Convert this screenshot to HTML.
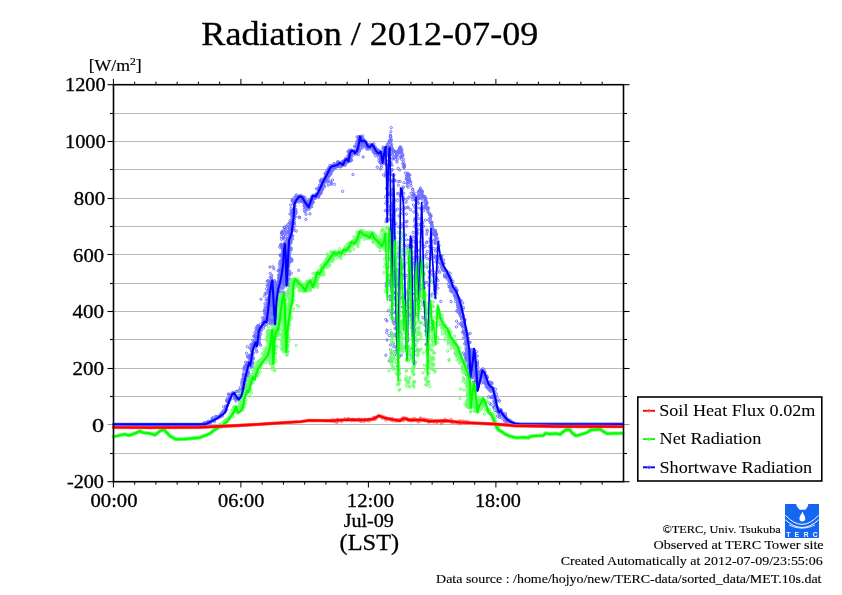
<!DOCTYPE html>
<html><head><meta charset="utf-8"><style>
html,body{margin:0;padding:0;background:#fff;}
svg{display:block;}
text{font-family:"Liberation Serif","Times New Roman",serif;fill:#000;}
.yl{font-size:18.5px;letter-spacing:0.6px;}
.tt{font-size:34.5px;}
.lg{font-size:16px;}
.ft{font-size:12.6px;}
</style></head><body>
<svg width="842" height="595" viewBox="0 0 842 595">
<rect width="842" height="595" fill="#fff"/>
<text x="88.7" y="70.5" font-size="16px" textLength="53" lengthAdjust="spacingAndGlyphs" style="stroke:#000;stroke-width:0.2px">[W/m<tspan font-size="10.5px" dy="-6">2</tspan><tspan dy="6">]</tspan></text>
<line x1="113.5" x2="623.5" y1="453.50" y2="453.50" stroke="#b9b9b9" stroke-width="1"/>
<line x1="113.5" x2="623.5" y1="424.50" y2="424.50" stroke="#b9b9b9" stroke-width="1"/>
<line x1="113.5" x2="623.5" y1="396.50" y2="396.50" stroke="#b9b9b9" stroke-width="1"/>
<line x1="113.5" x2="623.5" y1="368.50" y2="368.50" stroke="#b9b9b9" stroke-width="1"/>
<line x1="113.5" x2="623.5" y1="339.50" y2="339.50" stroke="#b9b9b9" stroke-width="1"/>
<line x1="113.5" x2="623.5" y1="311.50" y2="311.50" stroke="#b9b9b9" stroke-width="1"/>
<line x1="113.5" x2="623.5" y1="283.50" y2="283.50" stroke="#b9b9b9" stroke-width="1"/>
<line x1="113.5" x2="623.5" y1="254.50" y2="254.50" stroke="#b9b9b9" stroke-width="1"/>
<line x1="113.5" x2="623.5" y1="226.50" y2="226.50" stroke="#b9b9b9" stroke-width="1"/>
<line x1="113.5" x2="623.5" y1="198.50" y2="198.50" stroke="#b9b9b9" stroke-width="1"/>
<line x1="113.5" x2="623.5" y1="169.50" y2="169.50" stroke="#b9b9b9" stroke-width="1"/>
<line x1="113.5" x2="623.5" y1="141.50" y2="141.50" stroke="#b9b9b9" stroke-width="1"/>
<line x1="113.5" x2="623.5" y1="113.50" y2="113.50" stroke="#b9b9b9" stroke-width="1"/>
<line x1="107.5" x2="113.5" y1="481.70" y2="481.70" stroke="#000" stroke-width="1.1"/>
<line x1="623.5" x2="629.5" y1="481.70" y2="481.70" stroke="#000" stroke-width="1.1"/>
<line x1="110.0" x2="113.5" y1="453.50" y2="453.50" stroke="#000" stroke-width="1.1"/>
<line x1="623.5" x2="627.0" y1="453.50" y2="453.50" stroke="#000" stroke-width="1.1"/>
<line x1="107.5" x2="113.5" y1="424.50" y2="424.50" stroke="#9a9a9a" stroke-width="1.1"/>
<line x1="623.5" x2="629.5" y1="424.50" y2="424.50" stroke="#9a9a9a" stroke-width="1.1"/>
<line x1="110.0" x2="113.5" y1="396.50" y2="396.50" stroke="#000" stroke-width="1.1"/>
<line x1="623.5" x2="627.0" y1="396.50" y2="396.50" stroke="#000" stroke-width="1.1"/>
<line x1="107.5" x2="113.5" y1="368.50" y2="368.50" stroke="#000" stroke-width="1.1"/>
<line x1="623.5" x2="629.5" y1="368.50" y2="368.50" stroke="#000" stroke-width="1.1"/>
<line x1="110.0" x2="113.5" y1="339.50" y2="339.50" stroke="#000" stroke-width="1.1"/>
<line x1="623.5" x2="627.0" y1="339.50" y2="339.50" stroke="#000" stroke-width="1.1"/>
<line x1="107.5" x2="113.5" y1="311.50" y2="311.50" stroke="#000" stroke-width="1.1"/>
<line x1="623.5" x2="629.5" y1="311.50" y2="311.50" stroke="#000" stroke-width="1.1"/>
<line x1="110.0" x2="113.5" y1="283.50" y2="283.50" stroke="#000" stroke-width="1.1"/>
<line x1="623.5" x2="627.0" y1="283.50" y2="283.50" stroke="#000" stroke-width="1.1"/>
<line x1="107.5" x2="113.5" y1="254.50" y2="254.50" stroke="#000" stroke-width="1.1"/>
<line x1="623.5" x2="629.5" y1="254.50" y2="254.50" stroke="#000" stroke-width="1.1"/>
<line x1="110.0" x2="113.5" y1="226.50" y2="226.50" stroke="#000" stroke-width="1.1"/>
<line x1="623.5" x2="627.0" y1="226.50" y2="226.50" stroke="#000" stroke-width="1.1"/>
<line x1="107.5" x2="113.5" y1="198.50" y2="198.50" stroke="#000" stroke-width="1.1"/>
<line x1="623.5" x2="629.5" y1="198.50" y2="198.50" stroke="#000" stroke-width="1.1"/>
<line x1="110.0" x2="113.5" y1="169.50" y2="169.50" stroke="#000" stroke-width="1.1"/>
<line x1="623.5" x2="627.0" y1="169.50" y2="169.50" stroke="#000" stroke-width="1.1"/>
<line x1="107.5" x2="113.5" y1="141.50" y2="141.50" stroke="#000" stroke-width="1.1"/>
<line x1="623.5" x2="629.5" y1="141.50" y2="141.50" stroke="#000" stroke-width="1.1"/>
<line x1="110.0" x2="113.5" y1="113.50" y2="113.50" stroke="#000" stroke-width="1.1"/>
<line x1="623.5" x2="627.0" y1="113.50" y2="113.50" stroke="#000" stroke-width="1.1"/>
<line x1="107.5" x2="113.5" y1="84.70" y2="84.70" stroke="#000" stroke-width="1.1"/>
<line x1="623.5" x2="629.5" y1="84.70" y2="84.70" stroke="#000" stroke-width="1.1"/>
<line x1="113.40" x2="113.40" y1="78.9" y2="84.7" stroke="#000" stroke-width="1.0"/>
<line x1="113.40" x2="113.40" y1="481.7" y2="487.5" stroke="#000" stroke-width="1.0"/>
<line x1="134.65" x2="134.65" y1="81.7" y2="84.7" stroke="#000" stroke-width="1.0"/>
<line x1="134.65" x2="134.65" y1="481.7" y2="484.7" stroke="#000" stroke-width="1.0"/>
<line x1="155.90" x2="155.90" y1="81.7" y2="84.7" stroke="#000" stroke-width="1.0"/>
<line x1="155.90" x2="155.90" y1="481.7" y2="484.7" stroke="#000" stroke-width="1.0"/>
<line x1="177.15" x2="177.15" y1="81.7" y2="84.7" stroke="#000" stroke-width="1.0"/>
<line x1="177.15" x2="177.15" y1="481.7" y2="484.7" stroke="#000" stroke-width="1.0"/>
<line x1="198.40" x2="198.40" y1="81.7" y2="84.7" stroke="#000" stroke-width="1.0"/>
<line x1="198.40" x2="198.40" y1="481.7" y2="484.7" stroke="#000" stroke-width="1.0"/>
<line x1="219.65" x2="219.65" y1="81.7" y2="84.7" stroke="#000" stroke-width="1.0"/>
<line x1="219.65" x2="219.65" y1="481.7" y2="484.7" stroke="#000" stroke-width="1.0"/>
<line x1="240.90" x2="240.90" y1="78.9" y2="84.7" stroke="#000" stroke-width="1.0"/>
<line x1="240.90" x2="240.90" y1="481.7" y2="487.5" stroke="#000" stroke-width="1.0"/>
<line x1="262.15" x2="262.15" y1="81.7" y2="84.7" stroke="#000" stroke-width="1.0"/>
<line x1="262.15" x2="262.15" y1="481.7" y2="484.7" stroke="#000" stroke-width="1.0"/>
<line x1="283.40" x2="283.40" y1="81.7" y2="84.7" stroke="#000" stroke-width="1.0"/>
<line x1="283.40" x2="283.40" y1="481.7" y2="484.7" stroke="#000" stroke-width="1.0"/>
<line x1="304.65" x2="304.65" y1="81.7" y2="84.7" stroke="#000" stroke-width="1.0"/>
<line x1="304.65" x2="304.65" y1="481.7" y2="484.7" stroke="#000" stroke-width="1.0"/>
<line x1="325.90" x2="325.90" y1="81.7" y2="84.7" stroke="#000" stroke-width="1.0"/>
<line x1="325.90" x2="325.90" y1="481.7" y2="484.7" stroke="#000" stroke-width="1.0"/>
<line x1="347.15" x2="347.15" y1="81.7" y2="84.7" stroke="#000" stroke-width="1.0"/>
<line x1="347.15" x2="347.15" y1="481.7" y2="484.7" stroke="#000" stroke-width="1.0"/>
<line x1="368.40" x2="368.40" y1="78.9" y2="84.7" stroke="#000" stroke-width="1.0"/>
<line x1="368.40" x2="368.40" y1="481.7" y2="487.5" stroke="#000" stroke-width="1.0"/>
<line x1="389.65" x2="389.65" y1="81.7" y2="84.7" stroke="#000" stroke-width="1.0"/>
<line x1="389.65" x2="389.65" y1="481.7" y2="484.7" stroke="#000" stroke-width="1.0"/>
<line x1="410.90" x2="410.90" y1="81.7" y2="84.7" stroke="#000" stroke-width="1.0"/>
<line x1="410.90" x2="410.90" y1="481.7" y2="484.7" stroke="#000" stroke-width="1.0"/>
<line x1="432.15" x2="432.15" y1="81.7" y2="84.7" stroke="#000" stroke-width="1.0"/>
<line x1="432.15" x2="432.15" y1="481.7" y2="484.7" stroke="#000" stroke-width="1.0"/>
<line x1="453.40" x2="453.40" y1="81.7" y2="84.7" stroke="#000" stroke-width="1.0"/>
<line x1="453.40" x2="453.40" y1="481.7" y2="484.7" stroke="#000" stroke-width="1.0"/>
<line x1="474.65" x2="474.65" y1="81.7" y2="84.7" stroke="#000" stroke-width="1.0"/>
<line x1="474.65" x2="474.65" y1="481.7" y2="484.7" stroke="#000" stroke-width="1.0"/>
<line x1="495.90" x2="495.90" y1="78.9" y2="84.7" stroke="#000" stroke-width="1.0"/>
<line x1="495.90" x2="495.90" y1="481.7" y2="487.5" stroke="#000" stroke-width="1.0"/>
<line x1="517.15" x2="517.15" y1="81.7" y2="84.7" stroke="#000" stroke-width="1.0"/>
<line x1="517.15" x2="517.15" y1="481.7" y2="484.7" stroke="#000" stroke-width="1.0"/>
<line x1="538.40" x2="538.40" y1="81.7" y2="84.7" stroke="#000" stroke-width="1.0"/>
<line x1="538.40" x2="538.40" y1="481.7" y2="484.7" stroke="#000" stroke-width="1.0"/>
<line x1="559.65" x2="559.65" y1="81.7" y2="84.7" stroke="#000" stroke-width="1.0"/>
<line x1="559.65" x2="559.65" y1="481.7" y2="484.7" stroke="#000" stroke-width="1.0"/>
<line x1="580.90" x2="580.90" y1="81.7" y2="84.7" stroke="#000" stroke-width="1.0"/>
<line x1="580.90" x2="580.90" y1="481.7" y2="484.7" stroke="#000" stroke-width="1.0"/>
<line x1="602.15" x2="602.15" y1="81.7" y2="84.7" stroke="#000" stroke-width="1.0"/>
<line x1="602.15" x2="602.15" y1="481.7" y2="484.7" stroke="#000" stroke-width="1.0"/>
<defs><marker id="mb" markerUnits="userSpaceOnUse" markerWidth="4" markerHeight="4" refX="2" refY="2" overflow="visible"><circle cx="2" cy="2" r="1.15" fill="none" stroke="#6e6eff" stroke-width="0.95"/></marker><marker id="mg" markerUnits="userSpaceOnUse" markerWidth="4" markerHeight="4" refX="2" refY="2" overflow="visible"><circle cx="2" cy="2" r="1.15" fill="none" stroke="#66ff66" stroke-width="0.95"/></marker><marker id="mr" markerUnits="userSpaceOnUse" markerWidth="4" markerHeight="4" refX="2" refY="2" overflow="visible"><circle cx="2" cy="2" r="1.15" fill="none" stroke="#ff6e6e" stroke-width="0.95"/></marker></defs>
<polyline points="113.5,424.3 205.0,424.4 210.0,422.0" fill="none" stroke="#6e6eff" stroke-width="3.2" stroke-linejoin="round" stroke-linecap="round"/><polyline points="505.0,417.1 506.6,419.1 509.9,421.5 514.9,423.5 519.9,424.2 622.8,424.2" fill="none" stroke="#6e6eff" stroke-width="3.2" stroke-linejoin="round" stroke-linecap="round"/>
<path d="M208.6,421.2M204.1,422.8M204.7,425.7M203.7,423.5M206.4,423.1M204.0,423.4M208.4,423.9M207.6,421.5M205.4,422.7M213.4,417.4M212.6,419.4M212.8,419.2M214.4,421.8M211.7,420.6M212.1,418.3M214.5,420.1M212.8,419.3M212.5,420.4M215.3,418.9M213.7,419.8M210.8,422.6M216.9,416.7M215.8,416.4M220.7,416.3M218.6,416.4M220.3,416.2M219.8,416.9M217.9,416.8M216.1,416.8M217.8,418.2M220.5,414.9M221.0,415.2M222.3,413.1M222.4,416.2M221.1,415.4M220.5,414.5M221.6,413.1M223.3,411.6M225.1,410.0M225.6,408.8M223.7,410.7M226.6,409.7M225.5,410.6M223.6,406.9M223.0,411.3M225.3,410.6M229.0,402.4M226.0,405.8M226.9,401.4M226.9,400.8M226.6,400.1M227.8,401.0M227.7,405.3M228.4,402.4M226.1,407.2M226.0,406.0M228.2,402.2M228.2,402.6M228.3,394.0M229.1,399.3M228.9,398.8M229.1,395.0M227.7,398.2M230.2,399.9M229.5,394.3M229.5,397.4M232.5,398.1M229.9,398.4M232.1,393.7M231.8,393.7M233.2,393.0M232.7,395.0M232.7,392.4M234.9,396.2M234.1,396.0M234.5,395.4M234.4,394.0M234.0,393.3M233.5,394.0M235.2,398.6M235.2,397.2M235.3,399.1M236.3,398.7M237.7,398.7M236.7,396.8M235.9,401.1M238.2,398.8M238.1,397.8M236.9,398.5M239.0,399.6M237.9,395.7M239.5,398.0M240.1,398.4M241.0,397.7M240.9,397.1M240.3,397.6M244.4,393.7M241.2,395.5M241.0,391.8M242.2,393.6M243.1,391.5M239.2,392.0M236.8,391.5M241.0,394.9M242.5,392.3M239.1,390.3M242.2,392.5M239.0,391.4M241.0,394.4M241.8,392.7M243.5,395.8M240.9,392.3M235.9,391.7M246.6,393.7M244.7,391.4M241.5,395.1M242.0,389.1M244.0,384.6M245.2,387.5M242.6,386.2M240.0,389.6M241.7,384.0M243.9,387.6M244.3,390.5M240.5,387.3M242.3,388.6M242.4,386.7M245.2,390.9M244.1,390.5M245.9,384.9M246.7,390.9M243.1,384.4M244.2,387.6M243.2,384.2M246.2,387.9M242.1,389.7M243.1,387.5M244.7,381.0M244.0,380.7M246.9,379.0M247.6,377.6M242.8,382.9M243.4,378.3M243.3,379.0M242.3,379.4M241.7,381.7M245.1,377.7M243.5,381.9M246.1,380.0M244.9,383.5M243.1,379.9M242.5,382.2M244.9,378.9M244.0,378.2M245.0,378.7M246.4,378.7M246.0,379.7M244.4,378.8M243.6,380.8M245.6,376.8M244.9,374.5M243.6,376.3M247.0,374.1M246.5,373.8M243.3,375.9M247.2,377.1M249.2,375.2M243.4,374.4M244.6,375.4M247.7,373.0M244.3,375.0M246.6,375.5M246.3,374.4M243.5,373.7M246.9,373.6M245.9,369.1M245.5,366.8M244.3,368.7M248.8,372.2M247.7,372.0M246.3,371.3M243.9,370.4M247.0,369.5M245.6,366.8M244.1,368.9M246.6,367.3M245.5,367.5M244.2,367.2M246.0,367.0M245.5,367.7M248.4,370.4M249.9,367.0M246.7,365.0M252.2,367.0M248.3,364.4M246.9,364.8M249.3,363.5M247.8,366.2M247.2,363.8M247.0,365.7M247.5,363.7M250.0,365.6M249.8,363.7M247.7,362.8M251.7,367.3M247.3,364.7M245.9,364.6M248.2,362.9M247.6,364.1M250.7,362.3M248.5,363.6M245.3,365.8M249.2,363.2M248.2,362.8M251.8,360.8M250.4,364.9M252.4,363.1M249.3,363.4M250.8,363.0M249.5,364.1M252.1,362.6M252.8,364.1M247.2,363.0M251.0,361.4M245.6,362.1M251.5,361.7M249.7,363.1M248.9,362.4M251.2,359.6M248.8,363.4M249.8,362.1M251.9,361.7M249.7,364.1M248.7,361.7M252.5,353.3M252.1,354.4M248.2,357.7M252.9,359.0M252.3,358.4M253.1,352.6M249.5,355.3M248.8,356.2M253.0,356.6M252.1,352.0M251.3,354.4M251.0,356.8M249.4,358.4M253.2,353.4M251.4,358.3M247.4,356.2M249.8,358.2M246.5,353.3M253.4,358.3M250.0,358.7M250.9,355.0M249.7,356.5M251.9,358.6M251.2,355.3M256.8,351.8M249.8,348.1M252.2,347.5M256.3,350.0M251.5,350.8M251.9,350.9M252.4,347.0M251.7,347.8M252.8,349.0M252.2,349.5M251.5,349.7M251.8,350.4M252.1,350.1M251.7,351.1M251.0,348.4M253.2,348.5M247.4,346.6M254.5,345.4M255.9,345.2M252.9,344.6M256.3,346.6M255.4,344.2M253.8,343.4M255.6,347.2M253.7,344.6M254.5,344.8M252.8,345.2M255.6,343.4M255.6,344.6M252.4,345.5M254.9,344.8M253.1,346.2M254.4,342.7M253.1,343.5M256.7,345.0M253.5,343.2M256.3,345.5M253.8,346.7M255.8,343.0M251.0,344.8M255.9,343.5M255.5,346.2M254.0,345.3M251.3,344.3M259.3,339.5M255.1,340.4M257.9,342.8M257.8,340.7M256.8,344.7M259.4,343.6M256.3,339.2M256.7,338.9M256.1,343.9M256.2,342.6M259.2,342.4M257.3,344.2M255.7,345.3M259.5,344.4M260.7,345.3M253.7,342.0M258.6,343.4M256.1,341.7M255.0,343.0M254.3,341.8M252.8,340.2M256.7,340.0M257.2,341.5M259.1,340.4M258.3,334.9M259.8,338.4M254.8,332.8M256.0,337.1M256.1,334.6M258.9,332.6M256.2,331.5M256.7,336.6M259.2,336.3M258.3,334.6M260.8,334.4M259.5,336.7M259.6,333.5M255.1,335.1M258.2,336.9M258.0,332.8M254.8,337.1M258.5,336.7M256.4,337.3M258.5,338.0M258.5,331.1M254.8,336.2M253.7,336.2M258.8,336.0M256.4,330.1M260.2,330.6M256.9,326.7M257.1,328.9M259.1,329.9M257.5,330.0M258.9,330.7M259.9,330.6M258.6,327.0M256.0,328.4M258.6,328.3M259.6,331.0M261.2,330.9M259.3,326.4M261.1,326.6M257.7,325.9M263.5,328.3M263.4,326.2M259.2,326.9M261.0,327.7M259.4,327.1M261.7,328.3M260.3,326.6M258.3,325.4M260.5,324.4M261.3,327.5M263.1,323.9M263.5,322.9M263.4,321.4M264.9,325.2M266.5,324.6M262.7,322.1M262.8,322.9M263.3,323.7M263.7,324.1M264.0,324.7M264.4,321.0M264.1,323.8M264.8,322.2M264.5,321.8M263.6,324.0M264.3,322.9M263.8,321.9M269.4,319.8M263.8,319.9M267.0,318.3M267.8,311.5M264.1,317.3M268.1,319.5M264.2,311.3M264.6,320.6M267.5,311.0M266.6,320.2M268.6,322.8M266.7,317.9M268.9,316.3M269.1,316.2M262.4,317.8M265.8,318.7M264.9,310.8M264.7,320.4M265.1,317.9M265.9,313.5M266.2,318.6M267.2,316.5M266.5,321.3M263.2,320.7M267.1,320.7M268.7,312.5M267.7,313.2M267.1,314.1M269.3,318.9M268.4,312.7M265.1,313.9M267.6,312.8M266.2,314.5M268.6,320.6M267.8,311.1M264.9,314.1M268.7,311.7M269.1,298.8M269.1,298.5M267.6,308.7M268.7,302.6M269.2,305.6M265.0,303.8M270.6,298.0M268.3,301.5M268.2,308.3M268.8,306.6M267.6,308.7M268.1,308.3M268.3,306.2M270.0,306.6M268.9,309.8M266.9,307.6M270.3,294.1M271.7,304.1M270.4,304.3M269.4,300.3M272.9,295.3M264.6,296.3M269.0,307.9M267.9,309.5M268.0,298.0M269.9,307.4M264.4,310.2M268.2,298.3M270.3,297.4M265.1,308.8M267.9,303.9M266.3,310.2M266.6,306.8M270.0,297.2M267.7,299.9M269.3,305.4M268.1,305.1M267.2,301.4M268.7,307.8M278.1,304.4M268.1,305.3M270.2,294.8M272.4,298.4M265.0,293.7M270.2,304.1M267.5,307.7M270.8,305.6M269.2,304.8M268.1,304.4M265.1,306.9M266.1,299.9M271.1,301.4M270.6,303.3M267.3,303.6M270.9,288.9M268.0,287.2M271.6,284.7M272.9,289.7M270.3,286.5M270.5,290.0M269.3,288.9M268.1,285.0M267.2,285.3M274.2,284.5M271.0,291.7M266.5,288.8M268.9,291.0M266.4,292.7M268.5,291.3M270.9,285.4M268.3,285.5M270.2,290.3M271.0,285.3M270.1,292.9M271.8,288.0M270.5,293.4M270.6,285.1M268.6,291.8M268.1,290.2M269.8,287.5M271.9,292.5M269.5,286.8M271.0,284.5M271.7,290.7M275.9,287.4M268.9,290.7M270.5,289.8M267.2,281.2M271.4,281.4M270.6,281.7M275.1,281.9M272.9,282.7M270.7,281.6M269.7,283.3M272.4,280.8M270.9,281.4M269.9,283.1M269.7,282.7M270.9,288.4M270.7,281.8M272.0,285.4M273.9,289.3M268.0,280.9M272.9,286.7M270.2,289.6M266.4,293.8M272.7,291.6M271.1,289.9M271.5,285.8M270.1,283.4M271.4,282.3M270.9,290.5M271.2,288.9M270.3,283.9M274.0,281.9M268.5,280.8M274.6,280.5M272.5,287.6M271.6,284.5M272.2,282.0M272.0,287.3M271.8,290.9M269.5,283.5M275.0,287.8M271.0,291.9M273.8,293.4M272.2,292.1M270.5,286.1M271.7,290.3M271.7,282.5M271.5,284.5M271.4,289.1M271.7,281.4M269.9,282.0M272.5,289.2M273.9,293.1M272.4,285.7M271.9,290.4M269.9,287.0M272.1,286.2M271.1,281.3M272.7,287.7M271.6,300.3M261.0,299.2M272.3,302.1M273.2,313.2M273.8,305.9M271.6,305.8M275.6,303.7M272.4,295.8M271.8,299.4M274.3,301.9M268.4,307.8M269.7,300.7M272.4,310.4M275.4,309.1M276.6,306.2M273.4,294.3M273.1,309.0M272.6,302.3M272.6,313.7M272.9,302.8M274.3,301.4M271.8,300.4M269.5,295.5M270.4,305.1M273.8,296.2M269.0,312.7M275.8,302.1M273.8,311.4M273.6,294.5M272.4,312.6M275.2,307.6M270.9,309.0M272.2,305.7M270.8,301.0M274.4,304.3M270.9,301.2M271.0,303.7M272.5,298.6M274.1,308.5M273.6,310.5M275.1,308.2M272.1,313.6M273.8,303.0M272.0,296.0M270.3,311.1M272.1,305.0M269.3,297.1M273.0,295.8M271.6,298.4M270.0,296.5M269.4,305.8M274.8,301.1M273.8,308.3M268.9,299.4M273.4,294.2M272.6,299.0M272.8,303.7M271.2,304.2M269.9,297.3M275.4,304.7M274.8,304.5M275.7,298.9M275.2,312.6M270.1,303.2M276.3,323.4M273.5,316.4M270.8,315.3M274.9,323.1M269.7,320.0M270.2,323.1M273.3,320.8M273.8,324.0M273.4,322.7M275.7,319.2M274.9,319.2M272.1,321.3M271.8,319.1M273.0,323.9M273.8,315.3M272.4,323.6M270.8,323.9M274.8,314.1M274.6,319.9M276.2,323.3M273.2,319.3M274.0,322.8M269.9,314.5M272.9,319.3M273.8,321.7M273.9,322.0M275.2,322.3M272.3,314.2M275.3,316.5M274.9,320.8M272.6,316.5M274.2,316.5M274.5,321.9M276.5,311.9M276.3,303.5M276.3,316.4M276.1,308.3M273.5,306.0M270.2,318.7M277.9,315.9M275.2,300.8M276.3,305.8M274.6,305.5M276.7,306.8M277.8,305.0M274.9,322.6M275.8,320.8M279.4,302.4M277.7,302.4M277.1,319.7M277.7,308.3M273.3,313.3M274.2,321.3M279.1,320.0M274.3,322.9M276.4,311.8M275.6,310.8M272.5,322.1M273.6,322.2M278.1,312.4M273.7,316.3M275.3,301.2M276.6,310.0M274.3,301.8M274.8,323.6M273.0,320.2M275.7,306.8M276.1,305.4M274.4,308.7M275.3,317.0M273.7,317.9M274.3,309.4M276.9,315.8M273.8,311.3M276.2,316.4M275.1,304.0M269.6,320.0M274.6,320.1M274.0,318.5M274.5,317.4M274.2,307.9M277.8,302.5M277.2,315.3M275.4,310.6M277.0,313.4M276.6,309.1M274.3,317.5M275.2,318.6M275.6,305.4M279.1,314.3M273.9,301.8M275.9,304.4M275.5,316.1M276.9,305.3M274.6,302.5M272.8,304.9M275.5,320.0M274.5,302.4M273.6,312.0M278.5,302.9M278.0,309.1M277.0,301.1M276.1,316.9M278.5,301.1M274.7,321.2M275.1,306.0M271.9,303.4M273.5,312.4M277.7,300.6M279.8,293.3M275.6,292.2M276.2,298.4M278.7,292.8M277.0,289.8M274.3,288.9M273.5,296.3M276.4,294.4M276.9,294.3M277.3,291.9M277.6,298.0M277.7,300.0M278.1,289.5M275.6,295.6M278.3,289.4M275.5,295.4M274.3,292.7M277.5,290.0M279.1,294.7M278.3,291.7M276.8,297.5M276.0,291.9M280.0,292.7M278.3,295.8M278.8,290.3M275.8,299.8M278.9,299.5M276.9,293.9M275.3,292.3M275.8,300.1M275.9,294.9M274.6,299.6M278.9,289.6M275.5,294.7M275.4,299.1M277.8,298.2M275.1,295.7M278.5,284.8M276.6,286.1M276.9,286.9M277.7,284.6M279.8,287.0M277.8,284.0M276.9,284.3M279.6,287.9M277.8,283.7M276.6,284.9M274.3,283.6M277.7,285.0M278.5,286.9M276.7,287.4M280.5,284.3M282.2,287.1M277.2,284.1M282.1,277.9M279.1,281.6M278.8,275.1M279.3,277.0M282.3,282.1M279.1,279.2M280.8,276.4M280.4,281.6M278.6,278.4M282.5,279.9M279.8,280.9M278.6,283.1M283.3,277.4M278.4,281.3M281.6,281.1M278.2,282.3M283.0,282.4M282.2,283.4M281.4,282.0M283.7,278.7M280.2,282.2M278.6,277.6M283.2,280.5M280.9,280.3M278.9,275.1M278.9,281.8M279.2,280.9M281.9,280.6M278.1,270.7M284.0,273.3M279.2,270.8M284.8,267.3M283.2,265.6M282.4,268.6M283.0,263.9M283.2,265.4M282.5,267.3M280.1,272.0M279.4,269.6M280.9,268.7M282.8,272.2M280.1,275.1M283.4,274.4M280.3,269.7M282.2,266.5M281.4,267.6M279.7,270.6M279.6,269.6M282.1,264.9M280.9,275.2M282.5,268.2M283.6,273.5M279.7,266.9M280.0,269.8M284.0,263.9M283.6,265.8M282.5,269.1M282.9,272.0M279.5,274.3M282.1,275.4M282.6,274.3M279.8,264.0M283.2,268.7M283.9,270.3M280.2,269.9M279.3,271.1M282.0,254.6M282.9,262.6M281.5,255.9M283.0,254.9M286.6,253.5M283.0,263.2M281.8,263.2M284.6,257.3M282.9,252.3M280.1,254.8M280.4,255.8M283.3,252.4M285.9,257.1M282.2,260.3M286.7,263.0M282.0,260.3M286.8,250.5M281.1,255.0M284.7,262.9M282.4,258.4M283.4,250.2M284.4,259.2M284.8,261.3M283.3,256.8M280.5,260.9M283.1,262.6M282.7,257.2M283.1,255.2M279.7,262.7M283.1,261.6M283.8,251.7M286.1,262.6M284.4,251.2M282.5,262.1M284.0,261.0M283.9,261.4M284.8,261.7M281.6,256.6M284.5,255.3M286.7,259.3M283.2,258.3M284.6,250.9M284.3,258.6M283.2,249.8M285.6,245.6M285.0,244.6M285.8,245.7M284.2,244.1M280.5,245.9M281.0,244.2M282.5,244.7M285.5,244.5M285.0,249.5M282.6,249.5M283.0,246.2M287.2,247.8M279.7,247.2M284.4,249.0M284.1,248.1M283.8,248.1M284.0,244.0M283.2,248.6M286.7,246.1M287.4,248.2M287.1,252.0M283.8,252.7M284.8,246.2M284.8,248.5M286.8,251.9M285.0,244.6M287.1,244.2M283.4,250.1M282.1,248.3M282.3,246.7M281.9,245.9M283.4,250.7M282.1,248.0M282.7,253.9M282.5,250.6M286.1,247.0M284.6,251.0M284.0,246.9M284.8,249.6M284.3,250.7M284.2,254.9M285.6,249.5M282.3,248.5M285.2,249.2M282.9,255.1M283.8,251.5M286.1,245.5M283.0,249.0M283.1,248.1M285.3,253.7M281.4,245.7M281.0,244.9M286.3,246.2M283.7,254.4M284.9,278.8M284.7,269.4M285.2,279.1M284.5,269.4M284.8,283.0M282.9,283.3M286.4,273.8M282.7,279.3M283.6,270.4M283.6,281.4M285.5,271.8M284.3,278.2M285.9,267.8M287.4,258.5M283.8,260.2M286.8,266.1M282.3,260.4M285.6,276.4M284.8,273.7M287.9,284.5M286.5,274.7M283.9,274.8M283.1,265.8M288.0,280.7M285.2,274.6M283.8,279.4M285.5,264.2M284.6,274.5M284.8,257.6M282.4,281.9M284.6,269.5M283.4,263.5M286.7,255.9M287.3,260.8M284.0,257.4M287.4,268.8M283.1,264.8M285.1,284.7M283.8,283.2M287.1,279.6M284.5,272.0M284.3,259.8M281.5,272.7M287.9,274.6M285.8,278.7M285.9,267.6M286.1,276.7M287.5,280.1M283.7,259.5M284.6,264.5M286.4,269.2M285.5,265.1M283.1,279.6M285.4,282.0M284.6,263.2M287.4,267.5M286.1,261.2M284.4,258.3M282.4,261.1M284.6,285.1M286.9,280.2M284.6,260.4M288.1,261.3M284.3,260.0M281.2,269.6M284.8,265.8M282.7,278.8M286.7,268.9M284.9,275.9M285.8,264.9M285.4,266.8M283.0,256.0M284.4,280.6M285.9,264.6M284.0,273.0M284.6,266.7M284.5,278.4M285.1,277.1M285.6,264.6M285.9,277.5M283.2,269.5M283.3,263.0M289.2,284.2M283.6,260.3M284.8,258.7M283.6,268.5M287.7,282.3M283.7,270.6M284.5,267.8M284.8,273.2M285.9,277.3M284.3,262.0M284.9,271.7M285.2,272.2M284.6,265.3M285.0,266.5M284.3,264.1M290.1,279.2M286.9,279.6M288.7,285.3M288.4,279.0M283.5,275.2M286.8,273.4M284.5,276.3M287.1,278.5M289.6,274.1M287.5,277.5M284.4,284.7M286.5,283.3M286.3,283.6M284.3,281.2M286.6,285.5M289.6,275.2M285.4,284.4M284.0,272.7M284.5,285.0M287.0,273.6M284.8,283.8M286.7,284.1M284.5,279.9M287.2,272.8M287.4,273.3M285.3,279.2M283.3,277.1M290.6,285.5M285.9,282.7M282.9,282.1M287.9,275.0M286.0,272.4M283.7,275.7M287.0,278.7M285.7,278.4M284.9,283.5M286.9,282.7M291.4,273.3M287.8,274.1M284.6,275.5M287.4,274.2M286.7,278.9M284.3,272.0M288.1,265.9M289.3,271.0M285.6,264.2M286.3,264.4M284.8,271.9M287.3,267.9M288.7,260.4M291.0,260.8M288.0,259.7M286.8,266.0M287.5,271.1M286.4,256.7M285.5,255.8M287.4,255.4M287.5,261.3M287.3,261.7M287.5,261.5M289.2,262.1M284.8,264.1M288.8,265.4M287.8,255.3M286.8,267.4M286.5,265.3M284.5,261.8M289.2,255.7M287.4,263.1M287.9,257.0M285.9,263.7M286.7,270.9M288.4,267.3M284.5,261.9M288.4,259.6M287.9,257.9M288.8,259.1M289.3,261.9M286.3,255.7M287.1,265.5M287.4,260.8M288.6,261.9M292.0,261.1M284.5,256.4M289.6,258.3M288.2,270.4M298.7,270.4M291.0,258.9M288.7,263.7M286.8,271.5M287.2,256.4M286.5,270.0M284.8,258.9M285.8,265.0M287.4,257.1M292.0,259.3M287.7,255.8M282.8,252.4M285.0,245.8M284.8,251.5M289.9,253.1M288.4,249.7M289.0,250.5M285.8,254.7M291.1,242.2M289.2,244.9M288.4,244.2M289.6,241.5M289.8,247.1M288.3,254.2M289.0,254.7M286.9,249.8M286.1,248.6M286.4,247.0M288.6,248.6M286.6,251.5M290.7,243.4M288.4,244.4M288.5,244.7M289.1,251.0M287.1,253.8M286.1,253.3M289.8,242.5M286.6,252.6M288.6,241.0M287.9,254.0M287.4,246.0M288.0,253.2M286.2,246.1M285.3,253.0M287.4,253.0M288.3,244.9M291.0,248.0M286.6,242.9M290.9,250.2M289.6,240.4M291.2,248.9M285.0,241.7M287.5,251.1M288.1,240.8M287.2,253.0M287.5,254.0M288.2,242.9M284.6,248.3M286.7,243.2M288.0,239.5M288.0,239.4M290.5,236.3M290.7,236.8M291.2,236.7M291.2,236.4M291.0,234.7M290.0,236.2M290.1,237.7M289.2,238.9M290.9,234.9M291.2,240.0M290.3,236.2M290.0,235.0M292.7,236.0M289.2,233.8M287.8,232.6M288.3,238.2M287.5,239.5M291.5,239.5M292.2,235.8M292.4,238.8M289.7,233.2M291.0,223.3M291.5,224.2M294.3,223.4M289.0,232.7M293.2,226.7M290.5,223.5M290.3,222.3M290.5,231.4M294.3,219.4M291.6,225.1M291.6,230.6M290.9,228.9M293.4,230.6M293.4,223.3M289.9,223.1M292.3,226.1M291.3,230.0M290.0,223.3M292.2,221.1M294.2,221.9M296.3,231.1M291.6,217.3M292.2,227.3M292.7,222.0M290.0,220.6M293.5,223.4M291.7,222.7M292.2,222.1M292.0,217.8M291.9,227.7M294.1,219.4M294.7,225.5M291.4,232.0M292.8,218.9M291.3,223.1M292.2,226.4M289.4,231.4M292.2,220.7M294.1,228.6M291.5,224.6M290.0,232.5M289.8,230.7M289.8,226.2M293.5,223.7M293.1,220.8M291.0,224.5M291.2,229.3M289.7,229.1M292.9,229.4M290.9,224.0M288.1,224.2M289.7,231.8M293.7,216.8M291.9,215.0M294.8,206.4M293.3,216.7M296.0,211.1M293.0,209.6M293.7,208.6M294.9,216.1M294.1,211.1M295.3,213.9M293.2,216.2M294.7,208.5M291.0,208.3M291.8,213.0M292.3,211.4M293.5,209.0M295.1,217.1M294.4,214.0M295.0,211.7M295.7,209.4M292.5,210.3M290.0,214.0M294.7,216.1M295.0,210.1M290.7,204.9M294.8,211.6M292.7,210.9M294.3,205.4M291.7,213.2M305.2,207.9M293.5,215.5M292.2,214.0M294.2,211.8M293.9,211.9M291.2,210.9M295.3,213.6M292.5,215.3M293.3,215.9M294.7,205.6M296.3,212.8M293.4,216.8M294.8,203.7M292.1,200.9M294.0,201.3M294.0,203.5M292.8,200.8M295.7,201.9M292.3,199.2M294.9,200.6M294.1,200.9M294.8,201.4M292.9,200.8M293.6,203.1M296.3,202.0M293.8,202.1M295.2,201.8M296.3,194.8M296.4,198.0M296.1,197.9M297.2,198.2M297.4,198.6M299.3,202.2M294.5,197.4M299.5,197.9M298.3,198.2M299.0,197.8M298.4,200.0M297.7,196.8M298.6,200.9M295.6,196.6M297.4,195.9M299.1,196.2M298.0,198.9M299.0,197.0M300.9,195.4M300.6,198.0M300.4,198.2M299.9,198.8M300.2,196.1M300.0,197.8M301.3,196.6M301.0,198.2M299.8,198.3M299.8,199.3M300.8,198.8M304.8,201.4M306.5,200.8M302.3,201.0M302.9,200.8M302.6,201.8M303.5,201.9M302.5,197.9M303.5,199.0M303.0,199.6M301.6,199.7M304.5,199.3M305.1,197.6M303.7,199.5M303.4,196.7M302.1,199.2M300.7,198.1M303.5,201.4M301.4,198.1M303.6,199.5M301.1,201.2M301.1,197.8M303.0,197.3M302.9,200.3M303.9,202.3M303.3,200.0M303.7,197.3M306.0,206.5M307.0,206.4M305.3,204.1M303.9,205.8M307.9,207.3M305.2,206.1M305.4,202.6M308.1,204.5M306.0,206.4M307.5,204.0M304.8,204.1M308.7,200.7M306.6,206.5M308.9,206.7M303.9,203.1M307.2,202.6M307.0,204.5M306.2,201.8M308.5,203.3M305.7,204.7M305.7,205.5M305.9,206.1M309.4,206.2M307.0,204.5M305.0,203.5M305.7,201.9M309.3,206.2M304.7,205.8M309.9,202.8M309.1,206.8M307.2,205.8M310.1,206.5M307.6,206.2M311.0,203.2M311.2,202.5M311.8,206.8M311.9,203.8M311.5,203.3M311.2,201.9M309.3,206.3M307.1,206.1M312.6,202.3M309.8,202.7M311.0,202.6M308.6,204.1M310.9,203.8M308.0,205.1M310.8,202.2M310.7,203.9M310.0,204.0M308.4,202.7M309.4,206.0M311.6,204.6M309.8,207.2M308.7,202.0M308.7,205.3M311.5,201.6M313.1,202.0M312.8,198.6M311.4,198.0M311.4,200.7M310.4,198.9M311.6,197.8M313.4,197.6M314.7,197.7M315.6,197.3M311.6,200.0M311.8,201.0M312.6,199.6M311.9,196.6M311.1,201.2M313.1,196.6M312.3,199.5M312.8,199.2M312.6,197.9M312.2,196.0M313.1,201.8M315.7,198.2M310.4,200.7M312.8,198.9M309.8,199.9M310.5,200.8M311.8,201.5M312.8,197.2M314.5,196.2M313.4,197.9M314.0,198.3M313.2,195.2M314.3,197.3M313.6,198.2M313.1,196.5M314.2,197.1M314.3,198.5M315.3,196.1M314.4,197.0M315.2,197.2M319.5,194.1M315.0,195.1M316.2,195.6M318.5,197.0M318.3,194.1M316.1,195.6M319.1,195.5M316.8,195.9M318.0,195.0M318.8,194.1M317.4,194.4M316.4,195.0M317.5,196.4M316.3,194.6M318.3,193.7M316.8,193.2M318.6,196.5M317.6,195.9M318.9,194.9M317.9,188.6M318.3,189.4M321.4,190.9M318.8,190.4M320.2,189.0M319.9,192.2M320.6,190.8M319.3,191.5M320.9,191.9M319.9,193.4M318.6,190.0M319.5,188.4M320.1,191.6M318.8,188.0M319.1,192.4M321.2,193.3M320.0,189.2M318.7,188.4M320.0,188.8M320.7,192.7M321.2,189.7M316.4,188.8M322.0,185.2M321.7,187.8M321.6,187.4M322.7,184.9M322.8,186.8M322.1,184.7M322.7,184.6M319.5,185.5M322.3,189.2M321.8,188.5M321.9,186.7M319.0,187.9M321.7,185.9M320.7,187.0M321.5,187.3M323.0,184.3M323.7,184.8M323.6,185.1M324.6,186.9M319.8,186.0M322.1,186.2M322.5,189.6M320.6,188.1M323.7,185.6M320.3,188.0M323.2,181.8M323.0,179.4M321.6,180.3M324.7,178.7M324.8,181.5M324.7,181.3M322.3,181.5M326.4,179.7M324.4,182.3M323.0,182.4M323.4,182.1M324.6,177.8M320.9,181.4M325.6,181.2M320.7,182.7M323.7,181.6M323.1,183.1M323.1,182.3M323.7,183.5M323.5,182.5M329.2,181.2M327.9,178.4M322.4,183.4M327.2,182.2M320.2,180.5M325.6,180.3M325.7,178.7M327.9,181.1M325.8,179.0M321.7,179.2M323.6,181.0M322.6,182.4M342.6,191.4M326.0,176.7M328.2,172.9M328.4,174.3M325.4,174.2M328.3,171.4M330.8,174.3M328.1,177.0M330.5,173.2M329.1,176.2M327.1,172.7M328.0,172.4M330.4,172.7M327.5,176.4M329.1,172.5M325.5,173.8M326.2,176.6M327.0,171.0M329.2,172.5M328.8,175.1M331.1,172.8M327.0,172.5M325.3,176.2M329.6,172.6M328.3,176.6M329.7,172.3M327.7,175.0M328.3,174.0M325.3,173.3M331.6,170.1M328.5,170.2M329.6,171.6M328.9,169.0M331.6,170.7M327.9,170.0M328.4,171.2M330.1,169.1M330.2,171.4M327.3,170.6M328.0,169.1M330.1,169.1M331.6,169.5M329.6,169.7M331.8,167.8M331.4,167.6M330.5,168.6M329.8,165.5M331.3,168.4M330.6,168.1M328.9,167.7M331.2,166.3M331.9,168.1M330.3,167.3M330.0,167.7M332.1,168.1M334.0,167.5M333.7,166.9M333.4,168.2M332.1,167.8M332.4,167.7M332.8,170.6M331.6,165.7M334.2,167.1M334.3,166.4M333.7,165.5M334.6,168.4M333.8,166.9M336.7,163.8M334.0,163.6M335.8,167.0M336.5,166.3M334.6,168.4M335.6,166.2M335.1,166.0M336.3,166.6M334.3,164.3M335.5,166.7M336.5,163.8M336.5,166.7M336.5,164.4M337.1,165.2M338.2,161.8M338.7,166.2M339.1,166.6M339.2,166.5M337.5,161.8M339.2,162.4M340.2,164.0M342.0,165.6M339.9,164.4M337.6,164.0M339.3,163.1M340.3,164.4M339.9,163.8M336.9,164.9M340.5,164.3M338.6,162.8M339.8,165.8M342.1,162.7M341.5,163.8M341.4,165.0M341.9,165.9M340.8,166.9M342.0,164.5M343.5,163.8M341.4,164.6M342.3,163.0M339.6,164.5M339.3,165.1M342.6,165.1M342.5,164.6M339.8,163.5M343.2,161.2M344.2,164.7M343.2,162.4M345.6,162.7M342.5,164.6M344.3,163.3M345.3,161.1M341.8,163.9M342.5,163.8M346.3,162.1M346.8,161.8M344.7,162.9M345.8,163.3M344.4,161.8M344.7,164.5M344.0,162.7M345.8,161.9M342.4,163.2M345.1,163.7M343.6,161.1M342.2,161.6M345.1,165.2M346.0,160.6M345.5,159.2M347.9,160.8M346.2,159.3M344.8,160.1M345.6,160.9M345.6,160.5M347.6,161.7M346.2,159.1M346.2,161.6M347.4,160.1M345.5,160.6M346.3,160.8M345.9,161.7M347.1,161.1M349.6,160.1M347.1,161.2M347.2,161.2M348.3,161.4M346.7,162.6M347.6,159.6M347.5,159.3M347.9,160.0M347.1,159.5M348.3,157.0M353.3,155.4M350.7,159.9M349.3,159.4M349.0,157.2M350.5,157.9M348.2,157.1M348.9,157.8M351.3,154.2M350.5,158.4M349.7,154.6M350.9,160.8M347.1,160.1M349.8,154.0M349.1,157.8M348.6,157.4M347.6,160.7M351.2,157.8M348.3,155.2M350.4,160.8M351.1,155.0M348.5,161.1M348.2,158.9M349.7,158.1M349.9,156.3M350.5,159.1M350.2,157.6M345.6,158.5M348.8,161.4M349.6,156.8M350.4,153.7M349.7,159.6M348.4,155.4M351.7,160.1M350.1,157.3M348.8,156.3M348.0,151.8M349.7,152.3M351.0,153.2M349.6,150.9M352.2,154.4M351.4,152.3M348.5,151.4M350.4,151.1M351.9,151.4M349.4,152.2M352.7,152.7M351.9,152.4M349.4,150.1M351.9,151.4M351.9,153.1M352.1,150.8M352.0,150.4M352.0,151.8M352.3,154.0M351.6,153.1M351.9,151.2M351.5,150.1M353.2,151.1M352.1,150.4M355.1,151.6M355.6,151.4M356.6,151.8M353.3,152.4M355.6,152.6M354.5,152.2M354.0,152.7M352.9,153.6M352.1,154.2M353.8,151.8M351.6,152.5M354.8,150.9M354.7,152.9M356.4,152.1M358.5,154.6M363.1,157.0M356.4,151.7M357.1,152.7M356.2,153.7M356.8,150.8M356.4,153.0M357.1,153.5M354.7,150.7M356.5,154.0M355.0,153.0M357.2,150.9M355.8,152.0M358.8,150.6M357.1,147.2M357.7,148.3M360.5,148.1M358.4,149.4M357.8,150.9M358.4,149.3M357.4,150.4M358.1,149.4M359.4,151.4M357.7,147.7M354.5,146.2M358.0,148.6M359.3,150.2M356.5,146.2M358.8,149.6M355.1,147.0M362.0,148.3M356.4,147.1M358.9,148.1M359.6,139.0M358.2,141.4M359.8,141.3M359.5,138.0M359.6,137.7M361.0,140.9M356.7,144.5M361.5,139.5M360.8,139.7M359.9,138.0M357.3,140.9M361.1,144.5M358.3,141.5M358.6,145.8M360.1,138.2M361.4,137.2M359.0,142.3M361.6,137.6M360.1,137.9M358.6,144.7M361.5,143.2M360.9,137.7M359.7,139.8M359.7,143.4M361.0,138.9M359.3,142.7M359.3,144.4M359.1,145.1M356.3,143.1M360.4,142.3M360.1,144.1M362.0,139.5M358.5,139.0M363.2,139.0M357.1,136.8M361.2,137.1M358.2,141.1M359.7,137.9M358.7,139.2M360.2,137.4M359.6,139.2M359.3,143.2M358.6,142.6M360.3,145.3M360.0,141.0M358.2,137.9M363.1,140.6M362.6,138.6M360.8,139.9M360.2,140.8M359.3,136.8M360.0,137.3M361.3,137.3M361.5,138.7M358.9,136.9M359.5,138.1M361.6,140.5M358.5,137.8M362.6,135.9M359.6,138.2M362.0,138.5M360.6,141.0M360.0,141.6M361.6,137.0M360.9,140.7M359.5,137.3M359.8,141.4M358.2,141.2M363.0,141.3M361.7,141.0M363.5,142.2M363.2,142.7M362.8,143.2M361.6,141.8M361.6,141.3M361.7,141.3M362.9,141.2M363.1,142.7M364.0,140.8M364.1,140.8M362.8,142.2M364.8,140.6M363.7,141.6M364.5,141.9M365.7,142.0M363.4,141.1M365.1,142.2M365.1,142.2M362.6,143.5M366.2,141.9M365.3,143.5M365.9,147.3M368.3,144.5M364.0,145.6M367.1,144.4M366.3,145.2M369.3,145.6M365.5,144.2M361.9,145.4M366.8,145.4M366.0,146.1M367.7,144.6M364.6,142.9M365.7,146.8M366.2,142.8M365.9,144.7M364.7,143.2M364.3,143.8M363.4,146.3M366.1,142.4M365.9,143.5M368.1,147.7M370.4,145.7M369.9,147.0M368.4,148.4M367.8,148.0M367.8,147.4M367.7,148.3M368.3,149.0M368.2,147.7M370.1,146.6M371.2,147.3M371.4,145.2M372.8,145.7M372.8,148.0M368.2,145.5M373.0,146.0M371.6,146.2M372.7,144.8M373.2,145.2M371.3,148.0M372.6,144.8M371.8,145.5M370.9,146.4M370.6,144.1M371.4,145.4M372.5,145.3M375.1,146.6M367.0,149.2M371.3,145.0M374.5,147.7M371.7,145.4M372.6,145.7M371.3,149.6M372.4,147.5M371.1,146.4M371.4,145.8M373.7,143.7M372.5,148.0M373.5,147.2M371.8,145.2M372.0,146.2M372.6,144.8M373.6,146.3M371.9,145.4M373.5,146.9M375.3,151.5M374.0,152.7M373.9,149.9M375.2,149.1M375.5,151.2M376.6,151.2M376.0,149.5M376.2,148.6M376.1,149.8M373.5,152.0M375.1,151.5M375.2,148.3M375.7,151.7M375.2,150.0M373.7,150.9M377.7,150.4M374.3,150.2M373.7,149.6M374.4,149.1M376.5,153.3M376.1,152.3M376.1,151.9M378.5,151.4M377.1,153.8M376.8,152.3M375.1,153.2M374.8,153.3M376.8,153.6M378.1,152.4M376.5,152.4M376.0,152.0M375.3,155.7M377.3,151.7M380.0,154.9M378.0,152.6M381.0,152.3M379.4,152.5M381.7,155.0M380.7,152.2M378.5,150.0M378.5,151.2M381.7,152.5M378.8,152.2M380.6,151.9M379.2,152.6M381.7,154.0M381.6,153.6M381.6,160.9M380.0,162.5M380.9,153.7M383.4,153.5M382.5,162.1M375.4,152.8M380.7,160.6M377.9,155.4M380.6,156.1M378.4,151.9M382.1,159.3M383.2,153.1M381.4,157.7M380.3,153.2M380.7,162.5M380.7,154.1M383.9,154.4M378.8,152.4M379.6,154.3M382.9,156.7M382.6,162.0M380.3,152.8M380.9,154.4M380.1,153.3M378.5,157.7M382.0,160.0M380.8,153.8M381.6,162.8M380.2,159.3M384.0,155.5M381.8,161.7M383.4,161.8M379.3,154.3M384.7,154.6M381.8,159.1M379.2,154.6M381.0,156.4M381.0,153.8M380.9,157.5M382.3,157.6M381.7,156.6M381.9,160.3M382.7,162.6M380.2,152.0M381.7,161.7M383.5,158.8M382.2,160.6M381.4,156.9M382.2,162.0M382.1,159.8M384.2,158.4M382.8,156.7M380.9,160.8M383.4,157.7M381.9,155.5M383.6,163.1M383.7,162.3M381.9,155.0M385.0,158.3M382.8,161.6M383.4,160.0M385.1,153.2M385.2,157.4M384.3,152.9M400.9,156.8M383.2,160.6M383.9,160.0M383.3,153.9M383.3,161.2M383.3,158.4M384.7,153.4M383.8,156.5M385.1,155.4M385.6,155.1M382.3,156.9M380.7,158.0M385.5,153.3M383.9,162.8M384.2,157.7M385.7,156.5M385.4,160.4M385.4,157.7M382.5,157.1M386.2,160.5M381.7,162.1M383.6,161.3M384.4,162.9M383.7,160.4M382.5,158.6M383.6,153.5M383.9,156.0M383.9,157.7M381.1,155.0M384.0,158.3M385.0,153.8M383.0,155.4M383.4,158.3M381.9,160.6M383.9,160.5M386.0,148.1M386.9,151.5M387.1,149.4M388.1,149.9M385.6,152.1M388.7,147.6M384.7,152.0M387.0,148.2M389.0,148.1M386.2,152.7M387.5,151.4M384.9,147.7M387.1,147.2M385.4,150.9M386.8,148.8M384.5,148.2M384.4,150.3M384.1,149.4M383.4,148.5M383.1,147.1M386.8,152.9M384.2,152.6M383.9,150.7M385.6,152.6M387.2,152.8M388.9,147.6M383.8,152.7M383.2,148.9M439.5,256.4M441.9,255.9M440.4,262.8M440.8,258.1M441.8,260.5M439.4,259.2M443.5,263.0M441.0,256.3M441.0,263.6M435.5,257.0M443.6,260.0M441.4,258.7M441.6,258.5M437.8,260.4M440.6,264.3M440.8,259.9M441.2,256.0M441.3,260.2M439.2,257.2M435.9,261.8M440.7,263.0M443.0,263.9M443.6,263.7M439.9,272.3M442.0,268.9M443.8,269.9M442.3,264.2M441.3,267.1M444.3,270.2M444.6,270.3M442.3,265.4M437.4,272.2M442.5,266.1M441.9,267.2M444.5,269.9M442.5,270.1M443.8,263.5M444.5,276.5M448.4,277.9M446.5,271.0M446.9,272.1M436.1,277.2M444.6,275.0M447.4,275.8M446.7,277.1M447.5,273.7M448.1,275.3M448.4,272.3M449.0,276.1M448.7,276.5M444.5,274.6M444.0,270.9M445.6,277.0M448.4,276.0M426.4,282.4M446.8,274.1M445.2,276.5M446.9,276.0M450.2,277.0M450.3,273.6M449.2,281.6M450.5,281.3M451.4,283.6M449.1,286.8M449.4,286.7M451.7,279.5M449.1,279.2M453.0,281.5M450.9,284.3M451.8,286.0M451.4,286.4M450.6,285.2M451.9,285.8M449.4,281.6M449.4,278.5M448.6,284.2M447.4,279.2M452.5,285.9M450.7,285.1M450.4,287.5M450.4,280.4M450.6,280.7M450.3,290.6M452.2,291.1M450.9,289.0M452.2,288.7M453.2,290.0M451.5,291.7M456.1,288.1M452.7,286.9M455.2,288.5M454.6,286.9M457.1,290.2M455.6,292.1M455.5,293.8M454.1,294.3M440.8,301.4M456.8,290.6M452.8,291.9M456.5,291.9M456.6,291.5M456.3,293.6M456.3,294.3M456.6,294.9M455.9,295.2M454.4,295.9M455.0,294.8M458.6,297.4M455.4,296.2M456.6,296.5M456.0,297.2M456.4,297.3M457.7,298.2M455.5,298.9M457.1,299.0M457.5,304.2M459.5,306.0M457.9,307.5M459.7,301.8M459.6,307.5M458.0,306.9M459.1,299.7M460.6,306.3M457.0,300.7M460.9,305.5M458.4,302.0M458.5,306.4M461.0,300.6M457.6,305.1M451.1,301.5M458.0,299.2M459.4,299.1M455.6,301.6M457.8,303.2M461.5,307.2M462.7,303.0M460.6,300.7M463.0,309.2M456.9,311.1M459.9,313.8M461.9,312.4M461.7,318.2M459.6,313.5M460.2,315.9M459.0,313.0M461.3,310.6M461.3,311.2M462.8,315.9M460.4,308.6M460.5,313.2M461.5,309.3M463.2,315.2M461.2,310.9M457.1,310.7M460.2,308.0M461.1,308.2M461.4,314.4M463.5,307.6M461.8,317.3M461.5,319.1M460.3,310.2M460.6,311.7M461.1,316.5M458.8,310.1M458.6,323.7M462.6,325.3M463.0,326.3M466.5,330.9M462.5,326.7M464.2,325.3M464.8,319.8M463.3,331.7M463.6,326.3M465.8,328.1M464.5,322.8M461.7,325.4M463.6,328.9M462.8,325.8M464.3,331.0M461.4,323.0M463.5,321.9M464.5,320.7M464.5,325.2M462.5,325.7M461.0,324.2M463.7,323.6M464.9,319.8M456.5,321.2M465.2,328.1M461.9,322.9M456.4,326.9M464.0,321.5M463.6,331.1M464.3,323.2M463.1,324.0M466.7,342.1M467.8,343.8M465.1,335.4M466.0,347.7M463.3,338.1M470.3,333.4M467.9,346.5M469.5,342.3M466.6,344.0M467.4,335.1M468.1,334.4M462.5,332.4M467.0,341.9M465.6,341.3M470.1,342.4M466.1,340.6M467.2,348.3M466.3,334.9M467.9,345.0M464.5,332.1M468.1,333.9M466.6,344.4M464.4,334.8M465.2,334.5M465.1,337.6M466.0,334.7M464.7,332.6M466.3,333.7M467.3,348.3M464.9,333.3M464.2,333.4M466.1,345.0M467.5,337.5M466.8,339.9M468.4,341.6M448.6,341.6M468.2,338.2M465.7,343.3M466.0,336.4M464.5,332.9M464.6,343.7M469.3,364.3M470.6,353.6M470.0,365.9M466.5,364.7M465.1,359.6M465.8,361.2M466.5,352.1M467.1,354.7M466.0,358.3M471.5,365.4M466.2,349.5M465.0,354.7M469.6,363.8M464.8,355.5M468.0,349.5M467.0,353.1M469.4,362.4M468.1,353.2M463.4,353.0M465.9,361.5M469.3,356.4M469.1,354.5M469.4,359.1M468.6,365.5M470.0,366.1M466.3,364.4M472.1,365.6M469.5,364.7M468.2,359.1M467.6,356.5M467.4,361.2M470.0,351.7M459.4,353.0M455.3,353.3M465.8,358.0M470.3,358.8M466.5,350.6M466.7,356.8M468.1,365.5M468.1,359.6M473.1,363.6M470.6,375.0M469.6,370.0M467.0,366.5M469.1,366.4M466.6,368.9M471.3,366.8M467.9,368.1M472.0,372.2M469.8,369.6M468.5,370.8M468.1,367.6M470.1,370.2M469.1,373.2M469.5,367.7M466.1,373.1M467.8,367.4M466.7,369.9M470.1,375.1M469.6,367.6M468.6,368.1M471.6,369.9M470.4,375.8M466.1,374.1M466.5,366.7M470.1,367.7M469.0,368.9M466.7,374.8M471.3,374.7M468.1,370.1M470.8,373.5M471.7,371.1M468.5,372.0M472.0,370.0M470.0,370.9M470.2,376.9M472.7,365.8M471.8,376.5M469.0,366.8M466.9,374.3M471.2,368.9M471.5,361.3M473.1,361.5M471.3,369.8M467.9,373.3M472.6,377.6M472.6,363.5M470.5,371.4M469.8,371.1M475.4,366.4M471.1,361.8M468.2,373.5M470.9,363.7M468.8,366.0M468.1,367.1M469.0,369.9M471.6,368.7M472.8,368.7M471.5,369.2M473.7,364.5M469.2,369.3M468.0,375.7M471.8,369.7M467.8,374.6M469.4,368.1M469.3,367.5M471.7,377.5M469.3,364.2M473.9,362.0M469.4,369.9M469.8,372.8M468.9,363.7M468.4,366.1M473.7,354.4M470.5,355.7M470.3,358.4M472.6,356.8M471.4,351.1M472.6,356.6M469.7,356.9M469.7,357.6M474.7,354.0M469.9,354.4M473.5,353.8M473.6,352.7M474.0,353.2M473.0,352.5M471.6,358.0M472.1,349.5M475.1,353.1M470.8,355.3M472.2,358.6M470.0,354.6M473.9,357.6M473.9,356.1M471.2,356.0M472.8,357.6M468.7,355.1M472.9,353.4M469.3,348.9M469.4,357.9M473.9,350.3M470.6,359.7M469.8,352.4M474.2,350.6M471.4,350.0M473.4,349.5M471.8,357.4M472.2,361.3M475.8,361.7M472.9,354.9M472.7,352.5M473.7,362.5M473.0,352.7M473.5,361.2M472.5,354.4M471.8,363.4M476.0,362.5M472.2,352.4M477.2,356.1M475.2,361.2M472.8,353.3M472.2,362.5M474.8,354.4M472.8,356.2M471.6,354.2M477.3,362.5M476.6,351.7M475.4,361.7M477.3,360.7M470.5,354.8M475.2,357.9M474.1,355.0M473.4,352.1M476.6,362.6M473.4,350.7M475.4,354.9M473.3,359.6M475.5,367.9M475.5,372.9M474.5,373.6M475.4,369.4M472.5,377.6M473.3,364.5M477.3,365.2M473.6,387.5M475.0,381.5M478.2,375.7M474.3,371.1M476.6,374.9M476.0,369.5M474.2,364.3M476.0,375.2M477.9,367.2M475.9,383.2M475.9,385.4M474.2,384.1M475.5,386.6M478.4,387.1M474.5,368.4M473.2,372.4M476.0,371.7M479.0,378.9M474.1,368.4M477.0,386.9M473.8,376.3M472.2,387.3M476.1,376.7M475.6,379.8M475.7,386.5M477.6,370.1M475.7,381.7M473.6,382.0M475.7,369.6M477.6,363.8M473.4,389.6M474.0,382.9M471.0,374.7M474.5,383.0M472.3,384.9M471.4,375.6M473.6,366.0M476.3,383.3M476.5,375.6M478.3,374.0M476.1,382.4M475.3,373.4M475.9,380.4M473.8,390.0M476.7,387.4M474.2,368.7M474.3,384.6M476.3,364.5M472.7,367.2M474.5,377.2M473.2,369.0M480.6,380.0M474.7,375.3M475.4,370.3M474.9,367.8M476.7,372.4M475.0,373.6M475.5,370.4M475.4,390.3M476.5,388.5M475.4,384.7M475.0,389.9M478.2,382.5M476.5,388.6M475.9,387.7M477.2,389.7M477.3,382.9M477.6,389.0M478.3,382.5M476.8,390.7M476.8,380.6M475.9,386.8M478.6,384.7M476.1,385.9M473.6,386.7M478.4,380.7M479.8,381.0M476.9,383.4M478.3,386.9M473.9,390.1M478.7,381.9M481.7,382.9M479.2,382.6M480.2,376.9M481.3,371.5M480.9,375.1M481.1,371.0M481.2,372.4M485.4,376.0M478.5,371.7M478.7,376.4M476.7,373.8M483.7,373.7M477.3,378.3M481.2,375.9M480.9,370.8M481.5,375.7M480.8,377.8M478.7,372.0M479.6,378.9M480.4,378.5M480.9,373.2M477.5,379.1M480.5,371.9M481.0,377.6M476.4,376.5M481.6,380.6M478.9,378.8M482.8,368.7M484.3,370.2M479.1,373.3M481.4,373.5M481.6,371.3M481.9,369.8M481.4,370.5M483.5,374.3M486.9,376.2M483.6,374.5M484.7,377.4M482.9,373.7M484.9,372.2M484.3,376.6M484.8,373.5M483.6,374.3M486.3,377.5M485.3,378.2M480.2,375.4M481.4,373.3M486.8,376.1M482.3,377.1M482.1,376.6M485.6,383.9M484.4,383.0M486.3,383.8M485.4,379.5M489.4,383.1M485.9,383.6M484.5,378.9M485.1,380.3M488.9,382.1M485.2,383.3M485.0,381.2M484.3,382.0M487.4,377.9M486.5,380.5M490.4,382.0M491.9,382.7M488.9,384.6M490.3,385.3M489.1,386.1M487.3,386.6M486.8,387.5M487.2,384.1M486.0,386.4M492.0,383.9M488.8,387.8M489.3,390.0M489.8,387.0M490.6,386.0M488.3,388.8M493.2,390.9M490.6,390.1M495.0,392.2M492.6,388.3M491.2,388.2M495.6,389.3M490.4,391.3M491.5,391.4M493.3,387.9M492.1,388.9M492.1,388.5M492.9,388.9M492.0,388.9M497.0,396.7M490.9,397.5M491.2,397.0M491.9,397.1M488.5,396.8M493.7,394.5M493.7,397.3M494.3,395.3M495.5,399.5M493.4,397.9M494.8,396.4M493.6,397.4M495.4,397.6M496.4,394.0M492.5,397.1M493.5,396.6M495.6,404.5M498.8,399.9M495.7,404.9M496.2,406.1M495.6,402.6M493.6,406.9M495.9,403.5M495.7,400.3M494.2,401.8M496.4,401.1M494.9,401.6M493.9,408.0M494.6,403.2M495.8,406.1M489.8,403.4M493.8,401.1M494.3,407.0M499.4,401.3M496.4,400.4M491.1,404.5M497.9,409.3M496.7,410.1M496.8,408.9M497.2,411.6M497.6,407.6M497.0,408.5M497.9,407.7M499.5,410.4M500.0,409.5M498.0,411.7M494.8,410.5M497.8,409.4M498.3,411.7M497.2,411.3M498.7,413.2M500.5,412.3M501.4,414.5M501.3,409.9M497.5,416.0M500.7,409.9M499.3,411.1M500.7,410.0M502.9,414.2M502.5,412.8M499.7,414.7M499.8,414.2M500.0,415.4M505.5,416.8M503.6,415.1M505.5,414.9M503.4,416.0M504.2,419.3M499.3,417.3M502.2,418.2M503.8,416.0M503.1,415.4M502.7,414.3M505.3,413.5M499.7,417.2M506.1,417.1M508.4,420.3M507.0,419.1M507.3,420.6M508.3,420.5M507.0,422.3M504.3,420.9M506.1,422.5M508.0,420.0M506.1,419.6M506.3,421.3M509.8,421.6M511.0,421.2M509.6,420.1M509.6,423.4M387.5,153.8M387.7,166.6M386.1,164.6M389.6,170.6M385.7,172.4M383.6,174.9M385.7,203.4M386.8,200.7M388.6,206.1M386.4,188.5M385.4,176.2M387.2,194.8M392.1,205.8M390.9,220.2M385.5,196.7M387.1,210.0M389.8,179.4M390.1,215.1M385.3,210.5M387.4,221.0M389.1,219.3M387.2,211.0M387.9,174.0M389.3,171.4M385.9,221.7M386.4,219.0M389.6,166.0M389.4,167.1M387.3,150.9M392.1,165.2M389.6,149.0M393.5,189.6M391.1,192.9M392.3,149.3M385.7,154.3M391.9,170.2M391.0,164.7M390.9,173.4M393.2,195.1M386.9,155.3M389.5,193.1M390.7,174.8M388.6,248.2M395.1,259.9M390.0,219.2M387.6,202.1M389.3,258.9M389.9,281.9M391.8,231.1M392.3,234.5M394.3,255.3M390.2,258.4M390.1,209.7M391.4,260.2M393.4,257.7M392.6,238.6M388.9,212.3M391.0,245.1M393.0,265.0M390.2,245.1M393.3,286.4M394.3,240.2M392.7,240.6M389.1,275.5M392.6,255.5M393.3,244.9M392.0,244.3M391.5,243.4M395.1,248.4M391.4,245.8M391.0,233.1M394.1,215.5M389.2,194.5M390.2,206.5M395.2,211.0M393.3,232.5M390.7,195.0M392.0,181.3M391.5,226.4M393.2,220.8M393.1,233.2M392.3,233.7M394.0,201.7M394.6,180.0M395.0,180.5M394.3,200.0M393.4,175.5M393.1,179.9M393.3,262.2M396.5,272.0M398.6,226.9M392.7,279.9M393.5,244.2M397.5,279.8M390.4,209.5M396.1,223.6M391.0,246.1M398.3,253.1M394.3,279.4M393.1,271.0M394.1,224.5M397.7,269.5M394.4,261.6M392.5,202.9M394.5,297.6M393.4,292.3M393.3,292.6M395.6,299.1M395.7,321.5M396.3,328.0M396.1,305.1M395.5,297.7M394.5,304.7M396.7,317.0M400.4,336.5M397.9,349.9M392.5,336.5M395.6,334.8M396.0,346.3M396.2,336.9M399.5,343.5M400.4,348.1M401.2,355.2M398.1,347.9M398.3,322.4M401.8,267.4M398.0,285.4M395.6,292.4M395.5,312.2M398.3,277.3M400.6,283.0M400.1,329.2M396.8,283.2M396.2,311.0M403.3,266.3M401.8,298.1M398.0,329.3M393.7,320.7M398.4,193.4M400.3,196.2M399.1,215.8M400.3,238.3M397.5,209.2M399.3,247.8M399.8,257.4M402.8,189.0M397.9,256.8M401.7,225.9M402.7,227.9M403.7,236.2M395.0,258.9M402.7,209.3M401.3,188.7M402.4,188.1M400.5,194.9M406.1,202.3M403.8,193.2M404.6,245.9M402.7,213.5M406.5,226.3M409.6,262.0M406.5,239.8M403.6,254.9M402.6,250.2M405.7,235.1M404.3,244.5M401.9,223.8M407.3,247.7M406.1,222.0M406.4,214.2M403.3,312.6M404.1,297.2M404.4,313.1M404.4,323.2M403.7,277.8M404.4,295.7M403.8,302.6M406.8,304.1M402.5,307.0M401.5,297.9M402.5,274.5M406.8,275.6M406.1,333.3M409.0,354.1M405.3,347.2M406.4,336.8M406.1,331.6M407.7,340.5M407.5,310.8M407.6,334.4M409.8,307.5M409.2,350.6M406.5,321.6M405.7,346.2M409.9,316.3M406.3,347.2M406.3,302.5M410.9,301.2M405.6,311.8M410.5,348.7M411.4,285.8M409.4,287.9M410.3,298.7M409.4,262.4M408.0,292.2M414.9,265.5M404.8,299.3M412.1,285.1M412.1,259.0M413.6,257.7M409.0,251.5M407.8,245.6M411.9,239.8M409.8,240.1M411.9,289.9M410.3,245.1M412.0,246.7M415.2,279.8M409.3,246.4M411.3,266.9M411.2,286.7M412.8,264.0M410.6,262.3M411.2,246.9M409.8,293.9M410.3,266.2M411.8,328.0M411.5,303.9M412.4,326.7M414.8,309.3M414.6,345.1M411.0,313.3M415.0,331.8M411.3,319.7M413.7,302.0M411.7,355.9M414.9,362.5M413.4,352.5M410.0,314.2M411.5,308.3M416.1,340.0M412.2,310.1M417.7,350.2M415.0,313.0M417.0,314.7M416.4,300.3M413.1,335.0M414.9,306.0M414.3,329.5M414.0,351.2M414.0,350.8M414.0,337.1M416.3,278.3M417.4,257.2M414.5,293.9M411.2,245.9M412.2,281.7M418.0,202.3M413.6,268.6M412.2,278.3M413.8,212.1M414.7,219.1M411.3,268.7M414.3,226.4M421.2,198.0M416.2,247.6M410.6,209.7M414.6,262.0M416.0,255.8M415.4,279.4M414.5,286.1M415.8,272.8M416.0,208.0M414.6,221.3M417.7,215.0M417.3,207.7M415.5,218.5M418.1,229.5M415.7,224.6M413.1,236.8M415.5,258.4M417.0,263.1M415.5,271.6M416.1,243.2M417.5,297.7M417.0,268.5M417.2,250.7M420.3,288.9M414.2,275.8M419.7,285.5M418.2,265.0M416.0,299.6M417.3,289.9M417.1,293.3M418.4,269.1M416.3,270.9M416.2,283.4M419.9,284.6M422.8,244.9M421.8,257.9M420.2,241.9M419.5,250.3M423.8,284.3M423.6,287.9M425.2,207.8M420.4,208.3M421.9,231.3M421.7,237.3M421.3,230.0M423.7,226.4M422.0,208.5M420.6,225.3M422.9,222.6M421.4,209.1M428.1,207.8M421.5,234.1M420.7,224.3M418.4,224.4M424.7,257.0M423.0,266.3M424.3,287.8M423.3,266.3M426.4,242.8M427.3,258.4M423.0,297.4M425.2,283.0M426.2,254.5M422.2,261.9M423.2,247.8M425.2,246.4M422.8,302.6M425.4,312.2M422.8,317.5M423.7,304.5M427.7,320.9M426.0,325.2M425.7,331.2M427.2,343.7M426.9,344.8M428.8,335.8M424.9,325.0M429.4,327.4M427.0,324.1M426.0,344.5M429.0,277.3M427.9,310.1M428.7,285.4M432.9,275.3M427.0,313.1M425.1,319.4M429.5,272.2M429.2,271.3M430.6,296.2M430.2,273.7M430.4,246.5M430.1,238.4M427.4,251.4M427.0,267.2M431.8,258.4M433.3,255.2M429.3,259.3M430.1,241.1M429.5,246.4M433.7,248.5M433.5,241.2M427.0,230.0M430.7,253.4M435.3,257.6M431.8,254.4M435.4,251.2M435.4,274.4M433.4,281.8M434.5,272.5M437.9,280.5M434.8,290.1M432.2,294.0M436.8,279.2M435.4,298.0M437.0,284.8M436.4,278.5M435.3,291.4M436.8,249.7M437.8,262.2M437.1,247.9M437.6,266.7M438.3,269.7M440.6,257.5M439.1,245.4M435.0,242.7M436.8,242.7M403.4,161.9M411.9,196.5M404.3,166.9M396.0,156.5M403.6,199.8M399.9,147.1M421.6,192.2M413.4,194.5M414.8,198.5M401.8,150.7M407.8,207.2M422.3,192.6M407.5,180.2M407.4,175.0M416.6,213.0M429.3,213.4M387.9,145.2M411.1,185.6M392.9,159.0M400.6,151.5M408.6,177.4M400.1,181.4M403.8,167.1M397.6,200.5M416.1,238.8M399.6,170.0M434.7,239.7M387.7,152.0M393.2,150.5M388.4,152.4M418.5,196.2M408.2,187.3M412.8,199.8M431.5,222.2M401.8,149.3M409.9,175.0M418.3,192.7M431.8,224.6M433.9,234.6M435.3,231.8M437.7,256.0M418.9,191.0M395.2,152.3M391.7,144.4M432.9,229.5M431.9,222.3M404.3,164.3M406.6,177.7M386.9,148.0M394.7,157.6M389.4,144.6M425.2,199.9M403.8,182.6M414.4,194.8M396.4,151.8M396.6,156.4M413.0,191.6M396.8,153.6M437.5,238.4M406.4,175.8M408.4,183.0M394.0,174.9M397.8,154.6M408.4,181.0M415.4,199.4M404.7,165.8M400.5,148.7M407.5,173.3M434.9,233.3M398.3,168.4M415.4,251.5M422.1,194.5M429.3,213.5M420.4,188.1M436.5,279.4M421.1,194.9M407.0,221.3M395.7,151.9M397.7,152.7M393.9,150.9M404.1,166.7M415.8,200.8M399.0,152.9M416.6,200.9M392.9,149.8M419.2,198.1M430.4,219.0M392.8,158.2M423.6,210.8M419.3,190.4M436.0,234.2M427.8,209.2M391.0,139.0M420.3,196.7M397.0,162.1M407.2,186.0M408.4,180.2M431.6,225.3M415.8,199.4M404.0,199.0M413.5,204.9M393.0,181.2M391.8,147.4M398.1,181.6M436.2,236.7M417.9,199.0M425.7,201.0M409.3,180.4M426.7,234.2M413.1,195.8M390.9,141.6M426.5,201.4M435.6,236.3M407.6,175.4M407.1,199.3M400.3,150.2M387.5,147.2M401.3,152.8M401.4,155.7M391.1,145.7M420.4,189.2M432.0,225.5M407.3,179.9M432.7,234.1M419.4,198.4M412.7,189.2M408.1,207.7M427.8,210.5M415.1,207.5M407.1,183.2M422.0,199.0M415.8,210.5M403.4,186.9M434.9,230.5M430.6,216.2M416.6,201.2M392.5,150.1M427.0,242.0M386.3,148.4M406.9,178.8M431.3,227.6M418.2,203.5M425.6,199.1M413.1,232.5M396.0,155.9M425.1,205.6M428.5,219.8M399.4,148.9M418.8,218.6M420.1,190.4M393.2,150.8M413.7,195.2M390.2,164.1M405.4,173.0M424.7,198.0M401.7,159.4M424.6,206.4M421.7,233.0M425.4,220.1M427.4,231.5M386.9,150.7M409.6,178.8M408.7,174.4M425.1,196.6M416.5,196.9M399.2,148.7M419.3,197.7M400.2,149.5M388.2,164.9M417.6,196.0M390.5,136.4M426.1,203.8M413.7,241.6M390.1,141.0M414.5,196.9M438.3,241.6M396.0,155.5M397.3,151.9M417.9,233.5M436.6,234.4M423.1,196.9M430.5,222.7M436.0,233.8M398.5,185.4M419.0,195.0M419.0,197.3M417.7,196.9M401.3,150.7M436.0,233.5M415.2,199.8M406.2,179.0M408.0,174.0M432.3,229.4M435.6,232.2M392.1,169.5M421.8,190.7M402.8,156.1M403.3,164.6M432.4,270.6M413.9,193.0M391.6,149.8M387.8,154.5M389.0,141.3M409.0,177.9M409.6,181.0M390.4,142.1M432.6,227.4M393.2,152.1M391.5,151.4M397.5,193.7M416.8,198.2M387.1,147.0M435.5,256.6M425.5,198.8M392.1,148.9M402.8,154.7M427.0,203.1M411.1,193.4M410.7,181.7M436.7,259.7M390.6,161.8M431.8,222.7M418.3,192.4M435.2,243.6M385.9,155.0M433.4,232.5M437.4,262.9M430.9,215.0M430.9,216.4M404.0,167.9M435.2,239.6M426.1,204.3M414.1,195.1M423.4,195.6M408.9,175.3M427.2,207.3M437.8,288.3M403.5,159.4M407.0,183.0M404.5,208.5M435.4,230.5M402.0,153.2M398.2,152.2M416.6,200.0M388.8,142.6M425.6,198.0M416.9,198.0M400.3,157.2M433.0,233.4M424.0,196.6M429.9,221.2M397.6,159.3M427.9,212.1M436.4,239.2M394.4,158.0M400.7,147.0M433.2,234.0M426.8,203.0M408.9,197.1M391.1,162.6M428.2,208.1M429.7,215.0M396.6,151.5M395.8,159.5M423.8,208.0M435.1,235.8M422.4,191.3M392.9,150.3M389.9,139.9M392.5,155.2M429.9,218.1M436.2,235.1M432.8,229.0M387.2,144.4M423.9,202.0M399.0,149.8M391.5,147.7M385.7,174.7M399.2,152.3M434.3,231.4M417.1,230.7M391.2,145.8M412.4,189.2M401.3,156.7M426.4,202.8M426.2,205.0M388.5,149.4M432.3,228.8M426.6,208.5M431.3,223.7M422.2,195.7M405.5,207.7M407.4,173.7M389.7,147.5M421.2,193.0M391.9,154.2M410.6,183.5M403.5,197.5M402.8,163.6M392.1,189.6M392.3,309.3M390.9,286.4M398.2,370.0M397.8,281.6M397.8,280.6M390.6,349.8M394.9,285.1M386.9,330.2M398.6,327.1M390.1,296.3M395.1,328.3M394.1,324.0M393.7,346.8M390.4,311.3M393.2,318.4M395.2,312.6M393.0,321.9M399.9,287.9M391.3,353.2M396.9,271.1M393.4,343.5M385.8,355.3M389.3,361.0M399.4,325.3M394.6,334.5M395.8,293.6M397.8,313.8M397.9,345.9M391.4,361.1M392.3,313.3M386.0,286.2M386.7,332.6M396.4,270.1M399.9,332.0M387.0,320.9M391.2,299.8M399.2,374.0M397.3,366.3M395.1,284.0M386.1,283.3M394.5,355.1M396.0,293.6M391.8,274.0M389.2,335.5M387.4,280.2M390.4,344.9M385.8,319.4M390.1,279.9M387.1,340.0M390.6,315.3M396.3,293.5M390.1,299.9M399.6,356.4M392.4,283.7M395.7,335.3M398.4,344.9M392.5,276.0M389.8,296.4M394.8,351.3M398.9,274.2M391.5,333.3M396.7,348.5M388.2,284.6M398.1,312.8M394.0,273.1M397.7,306.4M395.6,278.1M395.9,300.5M388.3,310.7M399.8,332.3M270.0,267.0M273.2,282.0M271.6,297.1M273.8,299.0M270.2,277.4M273.6,291.6M270.9,295.6M273.7,298.4M273.1,266.7M270.3,296.4M271.6,277.2M272.9,285.8M271.3,278.9M271.6,298.7M270.6,281.0M271.8,295.4M272.7,292.7M271.8,275.3M271.0,298.8M270.6,293.6M270.2,273.4M271.0,298.6M272.8,283.0M273.9,268.8M273.0,285.1M285.8,230.4M284.6,227.9M281.4,236.7M289.0,228.4M285.2,236.2M287.8,229.4M284.4,233.0M289.8,228.6M288.4,238.5M283.4,235.7M284.6,227.4M284.1,227.4M286.9,238.7M281.7,232.4M288.9,235.6M289.1,226.7M286.3,241.3M282.8,238.3M283.7,238.4M284.8,234.3M287.3,234.3M289.0,233.2M282.5,232.2M286.6,232.1M286.5,226.2M281.5,239.3M285.2,229.1M286.3,226.4M281.7,233.1M283.8,230.7M281.7,233.6M283.8,237.6M289.3,238.3M282.0,233.8M282.3,231.2M286.3,257.1M281.2,295.0M283.4,293.6M280.2,265.0M281.5,284.7M282.1,259.6M289.1,285.2M284.5,282.6M289.6,283.7M288.7,262.0M287.3,255.3M289.0,294.0M286.8,281.1M282.2,290.6M286.5,294.9M289.7,262.2M284.3,255.2M287.5,257.2M284.7,258.4M286.0,263.6M281.3,269.6M281.3,282.1M282.2,288.2M280.6,261.0M284.2,292.7M289.5,259.1M285.3,284.1M285.2,270.9M289.5,256.8M286.3,256.0M289.3,292.1M288.5,272.4M282.9,275.1M285.1,271.1M283.6,287.6M304.3,209.3M304.8,211.4M306.0,214.3M305.9,219.4M307.2,208.8M310.0,213.9M309.2,208.8M305.2,211.6M307.3,209.6M309.4,208.0M331.6,183.5M334.5,184.4M330.9,184.3M332.5,180.0M328.1,185.2M331.0,182.4M352.9,174.5M391.3,127.6M390.8,131.6M390.6,136.5M391.3,139.9M390.4,134.9M390.4,136.5M299.0,217.2M299.7,217.5M381.2,165.3M378.9,160.7M380.7,162.6M377.2,167.2M381.4,167.2M380.3,169.1" fill="none" stroke="none" marker-start="url(#mb)" marker-mid="url(#mb)" marker-end="url(#mb)"/>
<polyline points="113.5,436.7 117.0,436.0 121.0,435.0 125.0,434.3 129.1,435.5 133.2,433.9 136.4,432.7 139.6,431.1 143.2,432.7 150.0,433.4 155.0,435.0 160.0,431.0 164.0,429.6 170.0,436.0 176.0,439.3 185.0,439.0 200.0,437.6 210.0,433.4 215.1,429.5 218.0,427.9" fill="none" stroke="#66ff66" stroke-width="3.8" stroke-linejoin="round" stroke-linecap="round"/><polyline points="488.0,410.6 488.3,411.6 491.6,414.9 494.1,420.7 496.6,426.5 498.2,429.9 501.6,431.5 504.9,434.0 509.9,436.2 516.5,437.8 523.2,437.3 528.2,437.8 531.5,436.2 538.2,435.7 543.1,435.7 545.6,433.2 549.8,434.0 556.4,433.5 560.0,434.5 563.3,431.6 566.7,429.5 570.0,429.9 572.5,433.3 575.8,435.8 580.8,434.5 586.6,432.8 590.8,429.9 594.9,429.8 599.9,429.1 604.1,432.0 607.4,433.7 614.0,433.3 622.8,433.3" fill="none" stroke="#66ff66" stroke-width="3.8" stroke-linejoin="round" stroke-linecap="round"/>
<path d="M219.6,427.1M217.5,426.4M215.5,428.2M219.6,426.9M217.5,427.7M218.6,427.7M220.1,425.2M214.9,428.4M219.1,427.4M218.0,427.1M218.8,424.8M217.5,426.8M224.0,421.4M221.6,423.7M222.1,427.0M224.2,422.9M220.4,424.1M226.5,422.4M224.0,421.8M222.0,427.1M224.9,422.9M221.9,425.7M229.3,419.1M225.6,420.2M228.9,418.4M226.0,419.7M227.4,421.6M227.8,418.4M229.0,419.2M228.8,417.3M226.5,419.6M229.1,418.6M234.4,411.3M233.4,412.9M231.9,414.9M231.8,415.3M234.1,412.2M233.1,411.5M232.1,415.2M233.6,416.8M232.1,415.8M230.4,413.2M229.9,415.7M232.0,410.0M235.3,408.0M234.5,407.6M233.5,410.3M234.3,408.2M234.5,406.8M232.9,409.6M237.3,411.0M234.6,410.3M233.6,407.3M235.8,406.9M235.8,408.7M234.6,406.7M234.4,409.0M233.7,410.2M237.1,412.2M236.1,410.3M237.3,412.0M238.8,412.5M237.6,413.4M238.3,410.9M239.0,408.4M241.3,408.1M239.0,406.5M243.1,409.2M237.3,410.4M241.4,409.4M242.6,410.5M238.0,407.1M239.3,407.1M240.5,408.6M240.7,410.5M240.8,409.0M239.8,407.1M241.6,408.1M239.9,406.8M241.9,406.5M242.0,402.2M240.6,405.5M241.4,402.1M242.3,406.0M239.5,404.4M244.7,403.8M245.0,403.4M240.0,401.2M240.0,406.1M241.8,400.9M239.3,401.7M241.4,405.1M242.8,401.2M244.0,404.4M240.7,404.5M242.5,403.3M243.0,403.9M244.1,406.3M244.7,402.3M243.9,407.2M244.7,397.0M243.8,397.6M243.0,397.9M242.5,397.0M244.2,395.9M244.8,396.5M241.0,398.3M242.1,397.8M243.5,397.6M242.2,397.7M245.2,396.3M243.6,400.3M243.0,398.5M240.1,398.9M246.1,399.6M244.6,396.0M242.8,393.3M244.8,390.8M245.4,392.0M246.2,393.2M245.0,395.5M249.6,396.2M239.9,391.7M243.9,390.6M244.3,390.8M243.8,395.0M243.9,393.1M241.5,393.6M242.4,394.9M245.1,391.7M240.9,393.0M245.0,391.8M244.4,391.6M246.5,390.3M243.7,392.9M247.9,388.3M246.9,391.2M244.2,393.4M245.8,391.6M246.5,389.9M248.8,390.2M247.8,388.7M247.3,392.2M247.0,389.6M249.8,390.4M249.7,387.9M247.9,389.4M248.1,389.2M246.3,388.2M248.0,391.6M250.7,389.3M246.4,386.7M248.7,387.8M251.5,392.8M247.6,384.8M247.9,384.5M247.4,384.9M248.7,385.0M251.1,384.2M247.9,385.1M249.1,383.1M250.0,386.2M250.8,383.1M250.7,382.8M247.5,383.0M248.0,381.7M246.6,386.3M249.0,385.0M249.1,384.9M249.6,378.1M251.3,380.5M249.2,381.4M251.4,381.8M252.3,381.7M250.3,381.1M251.4,381.4M253.7,378.6M249.0,379.7M250.8,379.7M246.6,378.3M252.9,383.0M252.6,379.6M248.6,380.0M249.1,378.0M250.3,378.2M252.5,376.9M250.4,377.8M255.6,375.8M253.2,377.2M252.9,378.6M250.7,378.3M252.6,379.0M251.4,377.4M249.4,378.6M254.7,379.6M252.9,377.6M252.5,375.8M255.1,377.8M256.9,376.3M254.9,374.5M253.7,378.8M256.3,375.3M251.8,374.5M255.0,374.5M258.0,375.2M253.0,373.6M253.5,376.0M254.2,375.8M254.3,375.6M254.3,375.0M254.1,374.1M254.4,374.3M255.3,375.7M253.4,371.4M252.3,369.7M256.0,373.0M260.2,372.0M257.6,373.5M257.2,370.8M255.1,372.7M256.4,373.2M256.8,371.6M255.1,372.1M255.7,369.9M254.9,372.1M257.8,373.0M256.9,369.7M260.1,368.2M255.7,365.3M254.5,367.9M257.2,367.7M260.4,367.5M257.0,366.3M257.1,366.3M255.7,367.2M259.8,367.2M258.7,367.6M260.3,364.5M257.9,363.3M261.3,364.5M260.2,366.5M260.6,363.0M260.8,367.7M260.6,364.1M259.2,363.4M258.3,361.4M255.7,362.2M259.5,362.1M259.6,365.1M260.1,363.7M261.3,359.1M261.7,361.8M263.1,360.4M259.9,360.3M261.1,362.9M262.0,360.0M261.0,362.0M262.2,360.0M262.2,363.0M259.7,360.9M261.6,363.1M265.5,362.9M262.5,357.8M265.0,355.8M266.3,357.5M264.4,357.0M265.2,358.8M265.1,358.1M263.4,358.9M265.8,356.2M264.8,356.7M263.3,358.2M264.0,358.1M265.3,357.6M262.0,353.7M268.0,354.6M268.2,356.8M269.1,353.5M265.7,353.2M263.8,354.9M267.6,353.0M264.2,354.5M267.5,351.9M269.1,352.9M265.1,355.5M264.3,354.3M268.1,353.0M269.5,355.1M264.1,352.4M268.2,343.9M266.0,350.4M269.8,347.5M266.3,350.1M263.7,348.7M270.4,350.8M269.9,344.1M268.5,344.1M274.7,353.2M267.1,347.0M267.0,351.6M276.6,346.0M268.2,348.4M265.8,351.5M269.6,351.9M270.6,345.8M269.6,343.2M270.7,343.4M268.0,348.0M268.3,343.3M266.1,347.6M268.0,349.6M268.6,351.9M269.5,351.7M270.0,346.4M267.9,348.9M267.2,351.6M268.8,332.2M270.0,334.6M272.4,334.9M271.0,341.9M268.3,338.7M271.2,340.6M270.0,341.1M272.2,336.7M266.9,340.7M270.3,342.6M272.1,339.6M268.7,335.8M274.4,333.8M271.9,339.5M277.7,338.8M270.7,338.5M268.6,337.7M269.9,339.2M269.1,331.2M267.4,337.1M270.6,334.5M272.1,338.0M269.7,331.8M267.7,335.5M272.2,334.0M267.7,334.0M269.9,334.7M272.5,331.9M270.4,341.6M270.3,332.0M269.6,330.9M268.1,334.2M268.2,339.3M269.6,333.5M269.6,337.9M267.8,337.9M272.4,331.1M270.9,340.7M270.0,330.5M276.6,347.2M270.3,331.9M268.3,341.7M272.6,330.0M270.1,347.5M274.1,362.7M268.5,331.0M271.4,348.1M268.9,341.6M272.4,332.8M268.9,341.5M273.0,346.2M271.9,335.3M271.4,331.1M268.6,343.7M270.9,331.5M271.1,351.2M273.2,331.5M273.4,332.7M269.5,346.9M269.5,356.1M272.5,361.5M267.5,341.0M271.0,331.0M271.4,333.4M269.8,333.2M273.0,348.1M271.1,340.1M266.7,338.5M270.5,356.1M269.8,336.0M269.9,338.4M269.8,331.2M270.7,343.3M271.6,345.4M270.2,356.3M270.8,331.3M271.1,354.0M270.8,353.1M271.6,361.2M270.2,336.8M272.4,357.7M270.6,350.5M271.0,362.0M270.3,331.5M271.6,338.7M272.3,361.5M271.6,348.0M272.5,353.3M270.3,347.7M270.5,363.8M268.3,357.6M270.6,354.7M269.9,354.7M267.6,330.7M270.6,351.6M273.5,338.5M270.3,339.4M267.0,331.5M273.3,346.5M271.5,337.7M271.3,357.3M270.1,347.9M267.4,336.3M272.0,360.6M271.0,348.2M269.2,331.1M273.2,358.4M272.8,363.5M271.4,344.5M269.4,338.8M270.3,349.4M272.9,350.3M273.4,348.3M271.9,334.9M270.3,333.3M271.8,351.8M272.4,334.8M271.6,336.9M269.4,353.3M272.7,362.3M271.5,359.9M271.7,350.6M273.2,359.6M273.1,362.4M270.4,339.7M268.4,334.2M271.9,344.4M270.8,361.7M268.2,337.2M271.5,349.3M271.8,349.9M268.8,349.4M271.5,348.8M271.4,355.3M269.8,338.9M270.7,343.1M270.7,337.6M269.5,347.6M269.4,331.2M272.5,354.4M271.5,344.1M271.5,342.9M271.1,359.7M274.5,354.3M272.9,356.6M273.1,347.7M272.6,347.3M272.0,355.7M274.7,351.5M273.2,347.1M269.0,348.5M272.5,341.7M271.8,343.9M270.8,359.6M272.9,363.0M271.4,361.4M273.2,352.9M271.3,355.4M272.0,363.1M272.8,344.3M272.0,340.2M271.2,354.5M271.9,361.2M272.3,350.7M272.3,346.3M268.6,358.7M269.3,345.4M270.7,348.4M275.4,357.4M272.6,346.0M274.0,352.3M269.5,350.6M274.0,355.6M272.6,343.9M272.1,356.6M271.3,363.7M272.9,351.4M270.1,363.5M274.0,349.3M272.3,341.5M272.3,354.3M271.7,340.1M271.0,355.1M272.3,349.0M273.8,346.9M274.7,346.3M273.0,349.4M276.0,360.7M271.3,358.0M270.4,356.0M273.8,340.4M275.6,353.4M272.7,357.6M270.5,360.4M266.9,359.9M272.5,349.4M269.1,355.3M270.9,350.9M273.9,347.9M272.2,343.5M272.1,356.4M271.5,361.1M275.6,349.4M271.9,355.5M273.1,346.2M272.5,361.3M271.7,352.5M273.5,352.9M271.1,351.6M272.0,340.7M268.8,361.7M274.6,342.6M273.5,344.6M273.7,333.8M273.7,331.5M275.8,336.3M273.5,334.5M275.5,335.2M272.4,335.6M274.0,336.9M273.2,338.3M270.8,335.1M274.9,339.4M273.9,337.1M277.9,332.2M271.7,339.1M274.0,336.8M271.0,337.0M273.9,332.7M274.0,337.6M277.5,335.5M272.0,338.3M274.5,336.6M273.7,337.6M273.2,333.6M274.7,334.4M275.9,337.1M272.9,338.9M269.8,337.6M269.5,338.4M272.9,327.7M274.1,329.8M276.8,332.9M276.8,331.8M274.4,329.7M277.9,334.3M275.1,327.6M278.6,329.3M277.5,326.8M277.3,330.0M274.8,328.6M277.0,325.7M276.1,322.3M272.2,325.6M277.3,324.4M276.6,324.3M278.5,327.7M276.0,322.6M275.6,324.8M275.3,323.3M275.7,326.1M275.4,327.2M275.3,326.0M276.9,325.8M280.0,323.9M278.1,327.0M278.8,330.2M274.5,325.7M277.3,327.7M275.5,327.6M278.6,327.5M277.2,321.8M279.7,315.9M276.3,312.6M280.2,312.9M278.6,312.5M282.7,312.3M278.2,311.5M279.6,312.2M280.1,318.2M279.3,311.3M274.2,317.5M280.4,310.4M278.8,310.0M278.7,317.6M274.4,316.8M278.1,313.7M276.5,316.1M280.4,314.5M279.3,316.8M276.8,320.0M276.4,311.0M274.9,318.1M278.8,310.0M279.7,318.7M282.6,316.5M279.7,310.2M280.7,316.2M278.6,313.5M277.2,321.2M282.7,317.1M276.0,321.0M279.4,310.1M280.2,319.2M278.6,320.2M277.4,310.2M278.5,315.5M280.2,307.6M279.6,309.4M277.1,305.0M280.4,300.0M279.9,305.7M280.3,306.5M277.3,307.1M280.4,306.3M279.2,307.5M278.7,303.2M283.8,301.7M281.5,305.5M280.8,303.5M279.8,305.1M280.3,302.2M277.8,307.9M281.6,302.5M279.0,303.8M281.3,304.1M279.6,305.2M277.9,307.7M279.0,309.9M282.5,301.4M280.1,307.3M279.4,301.7M276.4,302.4M277.1,309.0M277.5,306.7M278.4,309.1M279.7,301.3M281.2,308.8M282.7,294.9M283.8,296.7M281.6,295.5M278.9,298.2M281.6,295.2M283.3,296.2M281.8,299.0M278.4,295.7M283.7,299.3M281.6,295.1M284.8,300.1M281.3,296.3M280.6,295.8M284.5,298.7M278.1,294.0M282.1,296.4M278.7,295.2M278.5,295.4M280.1,294.4M282.9,299.9M285.9,299.2M284.9,299.1M283.2,298.9M280.7,296.5M286.5,294.3M283.8,298.7M282.2,294.8M283.7,296.0M279.1,298.3M280.6,294.6M279.8,296.6M283.3,297.6M283.1,296.5M281.8,294.9M280.1,295.5M281.6,298.9M285.9,323.6M284.2,317.7M283.5,310.6M279.7,310.4M285.7,313.9M284.8,319.3M284.2,316.8M283.3,321.5M281.6,320.4M280.3,308.6M284.1,328.6M285.0,303.8M284.7,306.0M284.9,305.9M284.1,329.6M285.7,306.9M283.9,306.6M281.3,321.1M284.7,319.1M283.4,305.1M282.5,316.2M281.5,307.5M282.5,314.6M283.3,317.8M284.6,304.5M280.4,321.9M283.8,329.5M285.1,328.9M283.6,325.6M285.7,300.0M284.9,324.0M283.6,317.4M285.5,323.4M285.3,308.8M284.8,320.0M284.6,310.5M281.5,303.3M280.1,312.4M283.2,315.8M283.0,314.4M283.0,311.8M279.5,303.7M282.0,321.4M285.3,326.2M283.5,306.8M282.8,329.8M282.3,315.3M284.9,314.4M283.4,308.3M283.2,301.8M283.3,314.2M283.7,329.5M282.8,312.7M281.5,325.0M281.4,313.7M282.2,319.1M280.1,308.3M284.2,322.0M286.4,311.6M284.1,328.3M281.2,300.3M285.6,323.2M282.2,314.3M281.8,312.3M283.6,328.8M282.9,319.9M268.2,326.8M283.2,305.0M284.7,302.5M283.1,304.9M282.4,318.2M283.5,324.4M283.8,316.1M281.6,328.7M282.4,320.4M283.1,302.5M279.1,328.6M281.1,314.5M280.1,306.7M281.8,311.2M287.0,321.0M283.4,323.4M279.4,306.5M280.8,310.1M284.5,312.2M282.6,312.7M284.1,311.4M280.6,304.4M282.0,308.1M283.7,323.9M285.9,346.9M284.5,331.5M282.1,339.5M283.9,351.3M284.6,345.3M284.8,339.6M282.6,330.3M282.7,335.7M282.7,339.4M286.9,333.2M283.6,337.9M283.8,339.4M283.1,337.4M283.7,338.7M285.3,337.7M285.2,342.7M282.3,336.7M284.2,350.3M284.8,344.5M280.7,347.3M282.9,349.6M283.4,334.6M283.8,337.6M283.3,332.9M282.0,343.8M284.2,333.9M282.7,342.5M286.4,344.9M284.1,340.8M286.5,346.2M279.7,333.5M284.7,350.7M284.6,349.3M284.0,341.4M284.3,331.9M282.7,334.2M285.2,351.2M285.2,334.2M285.7,334.0M283.5,333.7M283.1,335.6M286.3,336.6M282.6,342.4M285.5,342.1M283.8,337.1M286.9,330.9M279.4,335.0M282.7,330.9M282.3,338.2M282.3,333.8M283.1,334.3M283.7,348.2M284.3,331.1M285.8,345.5M283.5,331.5M285.7,347.5M282.6,340.9M286.7,350.5M284.8,342.0M283.7,351.9M284.0,344.9M283.6,345.5M281.2,340.8M282.7,349.4M287.1,351.8M283.8,334.2M284.9,341.9M286.0,343.0M286.1,336.0M284.9,344.9M281.9,344.4M287.9,336.3M282.3,348.3M285.1,350.9M284.8,345.3M287.5,347.9M282.6,342.4M283.0,346.5M284.5,350.8M287.9,337.7M288.0,345.6M287.2,351.2M284.0,342.5M286.5,342.4M284.8,340.2M285.7,343.6M282.7,338.8M288.7,337.8M286.7,345.7M288.1,342.1M285.9,343.8M285.2,339.1M283.2,339.7M282.4,349.3M282.0,341.7M287.8,345.8M286.5,346.4M282.0,349.5M286.1,344.8M287.3,337.7M288.1,351.4M286.4,340.9M284.6,347.2M285.0,341.6M289.0,340.8M284.1,348.9M286.6,349.6M286.7,338.8M286.2,336.6M284.4,346.9M296.3,345.5M285.5,343.1M284.5,340.1M287.7,345.0M283.4,340.9M286.6,340.4M287.5,338.7M284.7,334.4M282.3,334.3M284.6,327.0M285.1,331.8M286.1,325.7M286.1,334.1M287.1,326.0M285.5,331.5M287.1,328.0M287.6,328.8M288.2,334.6M286.5,329.5M283.7,334.1M285.2,332.2M286.8,327.5M284.0,332.1M286.8,328.5M285.3,332.3M285.0,328.6M289.3,329.2M287.0,326.5M285.1,333.6M283.8,334.3M285.3,333.5M284.5,325.5M284.4,325.6M284.1,326.4M284.3,328.7M288.6,323.3M288.2,320.9M284.7,321.7M285.6,321.6M288.8,311.0M285.6,323.8M289.3,314.8M289.5,310.8M287.1,313.6M288.7,322.9M289.1,310.6M290.0,312.3M289.4,325.5M289.4,318.7M288.4,311.0M290.3,315.3M286.8,323.4M287.9,316.7M285.1,310.0M286.2,322.0M289.0,310.4M287.1,310.9M285.7,318.3M291.0,319.2M288.9,314.5M289.7,320.5M289.2,312.4M289.2,312.9M290.1,310.2M284.5,316.4M289.6,310.4M288.2,315.2M287.2,319.2M282.5,319.7M288.1,325.4M287.3,316.1M289.7,317.7M286.9,320.7M286.5,311.3M287.3,310.1M289.8,312.7M290.5,312.9M289.1,324.6M288.6,311.4M291.4,316.9M286.4,318.2M285.1,311.1M298.5,306.5M291.1,306.0M291.2,304.5M289.1,304.2M289.1,303.2M291.5,300.8M291.1,305.5M289.3,301.5M293.3,309.0M288.2,308.3M291.7,304.0M291.4,300.2M289.2,305.4M289.2,298.2M289.9,301.3M289.9,305.0M291.1,303.4M288.7,309.1M293.8,300.1M287.5,303.8M287.4,307.5M290.2,299.2M292.1,298.0M289.1,297.7M286.8,308.4M292.4,300.5M288.7,308.6M292.0,299.8M291.6,302.4M290.0,302.1M297.1,305.4M292.2,301.0M289.6,299.7M289.2,307.3M292.4,302.4M291.4,301.3M289.6,303.8M292.0,303.0M295.1,284.6M293.2,289.0M287.2,291.7M288.3,296.2M290.4,297.4M291.5,290.1M289.5,291.6M292.0,291.9M293.8,296.0M291.6,293.7M290.2,293.0M292.1,293.8M287.9,291.1M291.3,291.5M291.6,291.2M289.4,295.1M290.1,292.3M294.0,288.9M292.5,288.6M291.7,292.5M290.7,293.6M293.0,287.2M293.4,284.2M292.5,295.5M292.3,288.9M287.6,287.2M290.7,292.3M292.6,285.6M294.2,292.7M288.5,292.6M288.7,297.3M290.1,284.8M293.5,285.6M288.4,296.7M291.0,284.5M293.1,295.5M289.0,289.6M292.6,291.1M287.9,293.9M295.3,286.6M291.4,286.8M293.6,281.5M295.6,279.8M293.1,281.2M291.3,279.3M292.8,283.4M290.9,283.3M292.4,279.7M294.2,284.7M291.7,280.1M293.1,279.6M295.0,284.5M291.6,283.5M292.0,283.1M292.3,279.8M291.4,283.7M291.6,280.8M294.5,279.1M294.3,280.2M293.2,279.8M294.7,281.0M295.3,279.4M294.0,280.3M294.9,279.6M293.9,279.4M297.6,278.9M297.2,283.9M295.9,281.0M297.2,284.0M289.3,288.4M295.6,281.0M297.3,280.5M298.2,283.2M296.0,281.2M295.6,282.3M297.4,280.8M296.0,281.9M299.2,282.5M297.2,284.9M297.9,285.0M300.0,281.4M297.8,284.0M300.5,285.8M299.3,287.6M298.3,286.9M301.7,284.2M301.2,283.2M300.3,285.6M300.2,286.7M301.9,284.9M303.4,284.7M304.0,287.0M303.2,287.2M307.4,286.7M304.2,287.5M300.9,290.0M303.9,287.4M301.2,288.7M304.4,289.1M304.6,285.4M303.3,286.7M304.1,285.3M300.0,290.0M304.4,284.6M304.7,290.9M302.6,291.2M302.7,291.4M301.6,288.2M304.5,290.9M303.4,291.1M299.2,287.8M301.2,289.1M303.0,287.9M299.2,290.7M302.5,286.5M306.7,291.1M310.5,289.7M308.5,286.4M307.1,286.1M304.8,290.6M306.8,285.3M307.6,289.2M310.0,285.1M309.6,286.7M310.7,288.1M308.7,285.6M306.1,289.9M308.5,286.7M308.0,288.0M309.6,285.6M304.9,289.8M308.9,289.3M311.2,286.5M310.3,290.7M306.5,289.7M307.7,288.6M307.4,289.6M309.0,287.8M307.5,290.9M305.8,288.7M309.3,286.8M304.2,289.5M306.4,285.5M309.2,287.1M305.7,286.1M307.9,284.1M308.4,283.0M310.5,282.1M311.0,283.4M309.8,284.1M310.6,283.4M311.1,283.8M310.9,283.7M306.9,282.0M306.8,281.5M307.1,283.5M309.8,280.6M310.4,283.2M308.2,283.9M306.7,283.0M309.9,280.4M309.5,282.2M310.4,286.9M315.6,283.5M308.4,282.2M311.5,284.4M310.2,286.6M309.0,282.2M306.9,282.2M312.0,280.5M312.6,283.2M307.4,284.2M308.8,282.6M308.7,286.7M309.6,282.2M316.6,284.5M311.3,286.1M311.1,287.2M311.3,281.8M310.3,281.0M311.7,283.6M312.1,284.0M307.8,285.4M311.6,286.1M309.5,287.8M312.3,280.4M310.7,283.5M312.9,285.1M312.0,282.3M313.0,286.8M314.6,282.2M310.2,285.3M318.1,285.7M313.2,280.5M314.5,285.1M311.9,282.6M315.4,280.8M316.3,282.3M316.7,283.4M312.7,285.2M315.5,283.5M317.6,287.3M313.5,282.2M314.4,281.7M314.3,284.3M314.1,282.2M316.7,283.3M311.9,284.9M315.1,284.6M315.5,281.5M315.0,285.3M314.0,285.5M312.3,280.8M314.1,287.2M313.2,280.6M313.6,286.5M315.4,280.2M317.2,280.2M318.4,275.0M319.4,275.8M313.3,278.3M315.0,273.7M317.4,274.1M317.4,280.7M317.2,274.1M317.5,274.5M314.1,279.1M317.0,273.4M315.8,275.2M317.3,274.5M315.8,278.1M316.5,277.9M319.1,276.2M318.2,278.2M318.5,274.4M317.5,276.7M315.0,278.9M317.7,274.4M315.0,278.7M319.3,273.8M317.5,279.7M319.2,274.4M318.4,274.8M316.4,279.3M317.0,274.7M315.5,276.5M317.8,277.6M318.3,273.4M314.5,278.3M312.9,273.6M317.3,275.4M319.1,273.3M319.5,270.9M318.9,273.8M319.2,274.1M317.3,274.3M317.9,274.2M317.1,276.7M319.1,270.9M319.1,273.0M318.7,270.2M317.3,272.4M318.7,273.4M320.6,272.0M319.5,272.7M322.2,269.4M321.2,271.0M320.2,271.8M322.1,272.1M324.2,274.6M321.1,270.7M322.1,271.4M320.3,271.1M321.0,272.5M322.6,274.3M322.7,271.1M320.5,270.4M321.3,274.7M322.9,270.3M320.2,273.6M321.0,269.8M322.5,274.5M324.1,272.4M319.6,272.8M323.2,270.4M321.3,267.5M322.3,268.1M325.2,266.2M323.4,269.5M325.8,267.4M323.4,268.4M320.8,265.9M321.7,268.4M322.1,265.8M323.2,267.6M324.4,266.1M321.7,267.1M323.0,267.7M322.3,264.3M324.2,265.3M322.6,268.8M321.8,267.3M325.0,265.3M326.4,262.9M324.8,263.6M324.7,264.8M326.8,262.7M326.7,262.2M328.3,265.9M327.0,264.6M324.3,262.8M324.5,263.0M327.5,267.6M330.0,265.5M327.1,262.3M327.8,263.7M326.6,264.6M325.7,265.3M327.6,259.3M329.0,259.8M329.3,261.5M328.5,262.2M326.6,260.1M331.2,260.2M326.2,261.2M329.0,261.4M331.0,260.8M327.8,258.3M329.6,260.4M329.9,260.6M329.3,260.4M332.7,261.6M329.3,261.6M325.8,259.2M329.5,262.3M331.6,259.0M332.8,257.8M329.3,256.9M328.7,257.9M331.6,255.3M331.3,258.6M332.5,256.7M330.1,258.3M327.6,257.1M333.8,259.2M330.0,254.6M333.0,259.9M329.0,256.7M333.2,257.1M330.4,255.7M329.0,255.2M326.8,254.2M334.8,253.3M333.5,253.6M331.6,254.9M331.0,251.5M333.1,255.0M334.1,253.2M331.5,254.3M334.3,256.2M333.2,254.3M333.2,255.7M337.3,257.7M331.2,252.4M332.8,252.6M334.8,255.1M334.6,255.6M333.1,253.1M335.6,251.9M334.9,254.7M335.6,251.6M334.2,254.6M332.4,257.4M334.9,252.0M335.8,253.2M335.3,254.4M336.5,252.0M335.4,252.6M338.2,252.3M334.6,255.3M334.8,251.6M340.2,256.7M336.7,253.8M335.6,253.0M339.0,255.2M338.8,253.6M337.8,255.3M340.9,258.6M338.8,253.4M341.6,256.2M335.3,253.2M340.3,255.4M336.5,253.6M339.6,256.6M336.2,254.0M339.9,255.8M339.0,254.1M338.7,255.6M338.4,256.1M338.2,253.2M340.1,255.0M340.5,253.8M339.3,255.0M343.1,250.9M337.7,253.7M342.6,251.6M339.4,252.6M343.7,252.7M339.8,252.3M341.6,252.5M342.3,251.8M344.0,252.2M341.3,251.9M344.7,252.7M345.1,251.6M339.6,248.7M338.9,251.3M343.6,252.6M344.5,254.4M340.7,250.9M341.9,253.0M345.2,251.5M343.4,250.3M341.5,252.3M343.6,250.0M340.5,253.3M342.3,251.5M346.3,245.6M344.9,248.1M344.2,251.3M345.3,249.4M346.4,248.1M347.1,248.0M346.2,249.7M344.6,251.4M345.9,250.2M345.2,251.8M345.8,249.2M350.7,250.7M348.0,248.5M349.4,248.3M348.5,248.1M349.5,251.4M347.3,249.7M349.5,250.5M345.4,247.2M348.0,247.2M348.9,247.6M348.5,249.4M349.3,251.1M347.5,247.9M347.4,247.9M348.6,247.8M347.0,250.0M348.0,249.0M350.2,245.6M347.8,243.9M352.3,246.3M351.5,243.2M352.1,242.8M351.0,244.6M350.4,242.7M351.1,245.4M350.5,245.7M353.1,244.6M353.6,244.0M348.3,243.4M350.6,244.6M350.6,243.0M352.3,245.3M349.6,243.9M352.3,242.9M351.2,242.4M351.5,244.7M353.8,249.3M350.0,244.8M350.0,245.9M350.2,245.1M352.0,243.4M350.5,247.4M353.3,242.5M349.5,246.4M351.4,243.9M353.0,243.2M350.5,244.8M352.9,241.0M351.7,242.2M351.8,243.0M354.9,241.8M352.2,241.5M357.3,243.3M355.9,240.8M353.7,243.1M354.1,242.0M357.6,245.1M354.8,239.8M358.0,243.2M354.9,243.6M354.2,241.1M354.7,241.8M353.7,243.4M353.6,240.6M354.7,242.8M356.3,243.5M358.2,246.4M355.2,239.4M357.2,239.8M355.7,238.6M359.0,238.6M359.5,237.9M358.9,241.9M359.3,237.8M358.9,240.1M359.3,238.1M356.1,237.1M353.7,236.7M356.8,239.2M358.0,237.8M356.2,238.9M357.1,237.9M357.6,237.0M356.6,240.7M357.4,236.8M358.8,238.2M358.9,238.7M357.6,240.5M360.6,233.4M362.3,236.9M358.2,233.1M358.1,234.0M362.2,232.7M359.1,233.4M360.0,232.7M362.4,235.9M361.8,233.0M361.3,232.3M358.2,236.0M361.7,233.6M359.5,234.8M359.5,235.5M360.9,233.1M360.6,233.0M360.6,232.3M360.8,236.4M360.9,233.1M359.9,234.8M357.0,232.3M361.4,232.6M358.5,233.4M362.6,232.6M361.0,234.2M358.0,233.2M362.4,231.2M361.0,230.7M359.4,235.3M359.1,232.2M359.8,234.2M361.7,232.0M363.5,230.6M360.3,233.5M360.8,233.7M366.2,232.9M364.8,234.9M363.4,233.2M363.9,232.7M361.9,236.7M361.7,234.8M363.7,235.0M363.7,235.3M362.2,235.4M366.5,232.1M364.1,234.4M364.2,233.7M365.9,234.0M366.1,236.2M363.8,239.3M365.9,233.3M365.8,236.8M365.9,236.7M367.1,235.0M366.9,236.7M366.4,233.7M367.1,233.1M369.9,237.6M366.2,238.8M369.7,232.9M369.0,235.5M369.1,235.2M368.2,236.1M369.1,238.4M369.0,234.1M369.7,233.9M370.2,236.6M368.9,234.1M367.2,237.7M373.1,238.6M371.4,234.4M369.3,234.8M374.9,234.6M372.5,234.9M368.9,234.4M374.7,234.5M374.4,238.7M372.7,238.9M372.1,238.4M369.5,231.7M373.8,238.6M370.7,237.4M370.9,237.0M371.9,234.0M371.9,234.4M373.3,238.3M374.9,237.1M369.0,236.5M372.6,234.3M370.5,236.6M370.2,233.1M373.6,235.5M372.7,232.7M371.6,233.2M371.5,237.2M373.1,234.1M372.1,234.5M368.6,236.9M370.6,234.6M370.2,233.7M369.1,237.3M373.5,233.0M370.0,237.1M374.9,236.7M375.0,236.3M372.7,234.4M372.0,236.0M373.7,235.0M368.7,234.4M370.7,233.5M370.7,236.1M372.2,238.2M373.9,233.9M375.7,240.2M376.1,237.7M378.2,237.7M376.0,236.1M376.7,237.4M376.2,236.9M376.4,238.1M372.9,241.5M374.3,239.7M377.2,239.5M373.4,242.5M373.4,242.2M373.7,239.8M375.6,239.4M377.8,239.9M378.4,242.7M377.2,241.8M377.5,242.4M378.4,240.1M376.6,244.5M378.7,240.7M376.7,241.7M377.6,243.2M379.7,239.1M378.2,242.3M377.1,243.4M378.1,239.3M380.2,241.9M381.7,239.8M381.1,246.2M381.6,241.3M380.8,241.7M381.4,244.6M378.0,246.5M381.6,243.5M380.6,245.9M379.1,243.5M381.1,245.9M381.9,243.5M378.4,246.9M378.8,244.0M379.9,243.6M379.5,246.3M379.2,244.1M380.2,246.6M381.7,244.1M379.5,244.3M383.7,244.5M380.4,243.7M379.7,240.7M381.8,244.0M385.9,243.1M382.3,243.6M384.8,245.2M385.0,243.9M382.1,242.8M381.1,245.4M385.3,244.7M383.2,242.3M382.4,244.0M383.8,244.0M381.8,243.7M381.3,242.9M379.2,242.3M385.3,242.6M382.9,242.0M379.4,244.0M381.3,243.0M381.8,242.7M385.7,234.5M386.5,236.3M387.9,239.1M383.7,236.5M382.1,239.1M383.9,237.1M386.3,236.6M387.0,238.0M387.3,238.8M384.5,236.6M381.3,239.9M381.3,239.8M386.3,240.9M387.7,238.4M385.0,235.0M387.8,241.7M387.5,236.2M382.8,237.8M386.8,234.6M383.5,235.0M385.0,235.4M383.8,234.4M386.1,236.4M383.4,239.0M386.3,237.1M390.2,238.5M385.7,237.9M387.6,234.9M383.4,235.5M386.0,239.9M385.2,239.7M442.3,315.1M432.7,311.8M436.3,310.6M436.7,311.5M436.8,310.8M437.2,314.2M438.7,314.9M438.4,314.1M437.6,311.7M438.0,314.2M436.6,318.5M436.7,317.2M437.9,316.5M439.1,316.5M438.8,317.0M439.3,315.6M437.4,312.1M439.0,310.2M437.9,316.8M440.4,318.0M440.7,315.0M440.9,322.6M441.9,324.7M437.1,322.3M435.0,322.9M442.3,318.6M438.9,319.1M440.5,319.3M442.9,324.3M441.9,324.8M438.6,318.8M441.4,319.0M441.6,324.8M440.2,324.7M444.0,322.8M441.7,321.0M440.8,325.0M441.3,324.8M441.5,325.0M442.2,325.5M442.8,326.7M442.5,328.3M444.2,328.2M445.8,325.3M442.3,331.1M443.4,324.8M441.7,328.1M444.6,328.8M442.6,326.3M445.7,327.3M443.0,325.7M447.2,336.5M446.2,331.0M447.4,331.9M442.5,334.2M448.0,337.2M450.4,331.4M450.7,334.2M444.9,332.9M445.5,331.3M446.7,334.3M445.4,337.7M447.0,331.2M446.5,332.2M449.5,331.7M446.6,333.1M449.2,328.8M447.6,333.2M448.0,332.4M449.0,336.0M450.8,332.7M447.5,330.8M446.6,334.4M450.3,338.3M452.1,339.1M448.2,344.4M454.6,336.0M450.3,342.1M450.5,342.0M452.6,341.7M452.7,341.6M452.0,338.3M452.0,339.7M449.2,337.6M448.5,341.2M449.6,337.8M444.9,339.9M455.2,342.0M452.4,344.7M453.0,344.2M454.5,346.5M451.0,348.5M453.0,342.2M454.5,347.0M456.7,344.4M451.8,345.6M455.1,340.6M454.9,341.9M450.6,344.0M456.0,349.2M459.7,352.3M458.6,347.5M458.6,354.7M456.1,352.2M460.3,354.6M459.3,351.1M458.2,354.1M458.6,353.2M457.9,352.4M456.1,355.8M457.0,350.0M456.8,345.7M454.4,347.5M456.7,346.2M459.7,347.7M457.7,355.9M457.1,352.6M447.5,351.1M455.0,350.5M455.7,353.6M454.3,348.3M457.3,352.6M457.6,356.8M461.5,357.0M464.9,362.6M448.9,359.6M460.0,362.2M459.5,362.9M458.5,359.4M459.7,357.6M461.7,360.3M461.0,358.9M449.3,360.6M456.9,360.1M460.8,358.5M463.5,361.0M461.0,354.7M462.0,361.2M460.3,358.5M460.5,356.4M459.5,358.9M461.2,361.6M461.1,358.6M461.4,360.0M464.1,364.9M462.4,371.7M462.1,366.3M465.7,367.0M465.9,370.3M467.6,370.5M466.7,370.0M465.5,363.0M462.5,365.9M463.5,369.3M465.5,372.2M462.9,368.5M463.5,370.3M465.6,366.7M464.5,367.4M463.7,372.9M461.9,368.5M466.0,371.6M465.0,368.7M464.5,367.8M463.7,363.7M462.5,369.0M468.0,377.1M467.8,377.8M468.8,379.5M470.3,376.7M467.4,378.9M466.6,373.3M467.4,373.2M465.8,373.1M470.3,379.6M468.1,378.7M467.4,379.7M463.5,377.7M463.5,378.6M468.1,373.0M466.5,373.6M466.6,374.0M469.3,373.5M465.0,372.7M468.0,380.2M465.8,380.0M468.2,375.0M466.5,405.0M469.3,382.4M470.5,385.4M470.1,383.6M470.1,393.7M467.1,386.7M468.3,398.4M467.5,404.9M468.6,398.8M467.1,402.7M466.9,383.1M470.0,397.1M469.6,406.4M467.2,396.2M473.3,405.5M471.3,389.6M467.4,406.9M469.2,401.2M467.8,403.0M468.6,393.0M471.3,406.8M468.1,404.5M467.3,391.5M469.1,395.6M469.5,403.6M467.7,406.9M467.4,394.0M469.5,401.5M468.1,407.0M468.4,397.6M465.5,382.9M467.5,405.8M466.9,388.4M471.2,389.8M468.6,396.2M470.2,389.9M469.2,407.9M469.7,394.2M468.1,384.0M467.1,396.0M469.1,394.8M463.0,381.1M468.2,407.5M469.2,402.4M468.1,405.0M467.7,393.9M470.1,386.3M466.7,381.8M469.4,385.0M470.8,392.1M470.0,402.1M460.4,389.0M466.5,401.3M468.8,398.6M469.6,383.9M470.4,405.6M467.6,390.6M459.8,398.5M467.4,385.7M472.1,392.6M467.7,395.3M470.0,385.8M470.6,399.7M467.9,392.2M468.5,399.9M463.9,389.9M466.5,405.8M475.6,393.3M469.1,405.6M470.3,397.1M471.1,393.9M470.3,406.5M467.1,402.8M474.1,397.4M469.6,405.4M469.9,393.2M473.4,405.2M471.0,405.5M470.7,405.7M470.3,393.0M471.6,394.5M468.5,398.7M468.7,404.3M469.1,403.7M470.8,406.4M468.7,400.9M469.5,403.6M471.6,405.0M472.3,398.5M469.4,404.1M468.6,396.6M469.0,400.7M471.7,404.2M471.6,403.0M471.8,398.9M470.4,403.4M467.4,400.2M471.8,393.7M468.1,406.3M469.9,407.3M470.8,398.2M474.2,393.0M471.8,402.6M470.4,405.8M470.3,401.8M471.3,383.6M472.0,389.6M474.9,385.5M469.4,385.4M471.5,390.2M475.4,387.3M471.7,389.7M469.4,388.3M471.3,388.8M471.8,387.2M473.1,385.7M473.4,385.1M473.9,383.9M472.5,392.0M471.8,387.0M468.5,387.1M471.8,389.3M470.6,390.4M471.1,384.9M471.9,391.6M473.0,391.1M473.8,388.0M471.2,396.3M469.8,395.7M472.0,390.9M475.7,388.3M474.6,391.9M472.4,384.4M471.1,392.8M474.2,394.4M471.6,393.0M467.1,385.6M474.0,394.0M473.1,384.2M473.7,390.1M473.6,386.4M472.0,389.8M473.6,394.3M474.4,394.0M474.1,394.7M472.3,384.4M472.3,386.3M474.7,386.0M473.1,388.5M473.1,389.6M471.2,387.7M470.8,392.9M472.1,388.3M473.1,396.1M473.2,392.1M472.1,392.0M474.8,399.9M476.1,401.3M474.2,401.3M476.1,408.3M471.9,404.5M477.9,409.9M475.3,406.9M477.6,407.0M474.5,404.0M473.6,406.0M474.7,402.6M477.3,398.7M472.4,406.5M472.6,405.7M476.4,401.6M477.0,409.8M476.2,399.4M472.3,399.7M475.9,404.9M474.5,403.1M479.3,406.9M473.8,402.9M474.9,397.9M476.5,401.5M472.4,407.1M476.9,411.8M471.2,411.2M477.2,408.6M474.4,397.5M475.7,411.0M470.6,412.1M471.9,399.5M474.6,411.4M472.7,406.4M477.4,411.0M474.0,398.1M464.8,404.4M473.9,400.4M476.1,404.7M474.7,398.5M477.1,407.5M478.9,411.6M476.4,408.5M477.2,408.5M477.8,407.5M475.3,408.4M484.4,414.1M477.7,407.8M475.4,409.3M476.2,410.6M475.4,410.7M474.7,406.7M475.5,406.8M480.9,409.6M479.3,406.9M477.1,409.7M479.4,405.2M477.6,404.8M480.9,404.4M476.5,402.6M479.2,405.1M477.6,405.7M494.8,414.5M478.1,403.4M483.1,401.2M479.2,401.8M481.3,402.2M480.4,401.0M495.3,408.8M479.2,400.5M479.2,399.0M480.3,400.8M477.7,402.3M481.0,400.8M482.5,398.9M478.7,399.9M478.9,397.6M482.4,402.2M486.4,400.2M483.1,399.4M482.5,401.6M481.8,401.1M486.0,402.4M483.4,400.6M482.4,399.0M479.1,400.4M479.3,399.8M483.3,402.3M482.7,398.6M483.3,398.9M481.0,399.6M488.0,409.5M486.6,410.0M487.5,410.0M484.2,406.4M482.0,406.8M485.9,402.9M485.4,406.7M485.0,409.7M484.9,405.4M480.7,405.1M485.5,403.8M488.4,409.8M487.4,409.0M482.6,404.2M483.5,406.1M481.5,408.8M488.2,402.2M489.1,410.3M489.1,412.5M492.0,414.0M489.1,413.0M491.5,413.6M489.9,410.0M492.4,413.9M494.5,420.2M493.0,419.3M491.4,415.8M492.5,415.7M493.3,416.2M495.3,418.3M494.0,417.6M495.5,426.0M496.6,424.2M495.4,425.3M495.9,421.9M494.9,422.4M495.2,424.5M495.0,422.3M495.7,423.5M495.9,427.7M498.9,427.5M498.4,429.7M497.4,427.8M499.6,430.7M499.2,430.7M498.7,430.3M384.2,243.7M386.4,235.7M387.7,245.5M387.8,244.0M383.8,272.7M386.7,250.6M386.6,256.5M390.1,259.7M384.7,266.8M384.7,259.2M387.5,280.5M387.8,267.4M386.0,292.3M387.6,296.2M385.2,290.0M387.0,266.1M392.8,272.4M392.6,279.2M386.3,291.4M385.3,264.0M389.0,276.6M387.5,267.1M388.2,267.0M387.6,245.4M391.0,247.0M387.6,250.7M386.8,250.3M391.4,240.6M392.9,230.6M391.0,228.9M391.2,230.5M392.0,261.7M393.1,235.5M389.5,244.2M385.9,235.2M389.2,234.6M391.0,257.3M391.7,239.3M388.8,232.4M391.5,255.7M394.0,286.7M392.9,285.5M393.3,275.4M392.0,279.5M392.3,286.8M393.5,304.9M389.2,276.0M391.9,297.8M391.2,289.8M393.3,303.8M390.3,307.5M390.6,310.5M391.3,291.5M392.6,303.6M392.6,294.8M396.9,296.1M390.8,318.1M391.8,290.7M395.3,259.5M394.5,254.6M393.2,248.0M391.4,251.6M397.4,279.9M395.2,276.7M398.1,272.4M394.8,262.6M395.0,286.6M396.3,261.7M391.9,242.5M396.2,257.7M394.1,245.8M393.1,259.6M396.4,265.1M397.8,270.9M400.4,256.7M397.1,274.9M391.6,276.6M399.9,256.2M397.1,321.4M396.7,327.3M397.3,282.2M397.3,281.9M397.3,327.0M394.4,319.3M394.5,318.9M398.8,328.4M396.9,295.0M402.3,298.8M394.2,284.3M397.8,353.4M396.1,373.4M399.4,357.4M399.3,369.8M399.3,334.1M399.0,339.7M399.5,372.7M396.5,339.5M398.8,362.4M397.1,374.4M400.0,380.3M397.4,337.3M399.5,351.5M399.2,374.0M399.1,365.7M398.8,332.5M397.1,337.9M396.9,366.1M396.7,352.8M400.0,344.8M399.5,340.3M396.0,362.9M403.1,297.2M398.8,320.2M398.5,321.1M401.5,283.3M399.8,315.8M396.5,319.1M397.9,319.4M398.0,312.4M398.5,317.0M398.9,287.3M400.6,288.0M402.2,268.9M398.8,273.1M403.9,264.5M398.7,268.9M399.6,269.8M401.1,274.1M401.1,267.2M398.6,263.7M403.9,264.9M401.8,288.5M399.8,287.1M403.0,286.6M404.2,295.0M402.4,328.7M403.8,315.2M405.5,329.5M401.4,293.5M403.6,320.3M401.9,322.1M402.1,320.9M405.8,290.0M405.0,323.1M404.6,304.4M404.6,311.6M401.4,321.6M405.5,307.2M407.3,312.3M403.7,307.7M404.3,307.2M405.5,317.7M405.2,316.8M402.9,301.8M405.3,330.9M407.9,337.9M407.2,331.2M404.5,326.0M403.8,346.3M403.0,351.9M406.1,360.6M403.9,348.5M407.5,360.0M408.3,338.1M409.6,306.1M408.8,308.0M407.8,300.4M406.4,305.6M411.9,353.3M404.7,350.4M406.1,315.7M407.1,301.5M408.7,350.1M409.4,312.9M407.2,358.6M402.3,350.9M406.6,293.0M410.4,287.4M406.1,294.8M409.4,295.5M408.3,263.1M410.9,294.7M403.9,285.7M409.8,286.1M409.4,258.5M409.7,249.4M409.0,269.0M410.6,258.5M407.0,262.8M408.6,270.8M408.5,257.5M407.4,277.6M412.1,287.5M414.5,287.4M411.7,309.3M414.3,324.4M412.6,300.6M412.8,324.0M409.3,281.1M410.9,293.2M408.2,304.0M413.9,313.2M410.3,286.2M414.7,344.0M412.8,345.3M411.5,348.3M414.2,331.6M411.0,353.7M415.6,361.7M412.7,361.3M413.5,317.9M413.5,359.1M415.8,335.3M408.9,357.9M415.4,345.1M411.6,348.3M416.4,313.9M410.5,323.9M415.4,339.3M411.3,358.1M414.0,330.8M414.2,362.5M417.2,290.7M416.4,302.8M414.5,284.9M414.8,307.9M411.9,301.4M416.8,296.7M416.7,303.5M414.7,304.9M421.2,271.8M417.8,271.8M417.0,269.1M417.7,286.9M417.1,279.0M420.8,264.1M417.8,277.3M419.1,282.6M418.5,273.1M419.2,307.3M420.5,294.5M419.3,306.4M418.1,305.0M419.5,294.6M414.4,305.8M415.9,315.2M417.3,316.8M417.4,307.7M421.5,300.5M422.7,305.2M420.5,308.9M422.7,290.3M418.3,299.9M422.6,285.8M418.7,297.2M423.7,291.3M418.9,294.8M419.3,294.6M419.1,268.3M421.0,264.1M421.9,269.9M421.8,262.7M422.3,268.4M424.2,273.5M420.8,295.8M426.5,294.8M422.5,292.0M423.2,290.7M424.7,294.9M423.0,296.6M421.3,296.3M426.1,305.8M423.6,304.3M424.5,292.6M426.6,303.1M425.5,307.6M423.6,323.5M425.7,330.6M425.3,316.9M426.6,329.0M429.0,324.6M425.1,312.7M427.5,312.0M422.8,372.7M427.8,347.1M428.9,347.4M428.6,368.5M425.7,370.2M429.3,373.0M427.1,352.6M430.3,361.4M428.1,347.0M428.3,348.3M424.4,364.9M431.1,357.3M429.0,363.4M430.8,366.1M430.9,349.8M430.3,330.5M431.4,338.5M430.9,331.3M428.0,335.8M429.8,314.1M430.5,316.3M427.6,306.4M431.4,317.3M433.2,301.9M430.2,305.4M429.3,308.9M432.8,326.5M434.8,317.4M432.1,324.0M428.6,311.9M429.6,328.7M432.5,329.7M434.5,328.4M434.4,322.4M433.5,338.3M437.9,337.5M433.5,341.6M437.9,342.7M436.0,324.7M440.1,321.8M435.6,331.9M432.4,322.8M437.3,326.1M440.0,312.6M432.9,306.0M437.6,307.9M438.3,309.1M433.3,306.7M397.8,269.5M421.8,257.2M405.4,253.3M428.1,266.1M394.0,301.6M395.7,273.6M416.8,263.8M398.9,272.6M410.7,304.2M408.0,258.9M409.2,258.3M424.6,274.5M386.1,227.6M412.6,324.7M421.3,337.3M430.7,321.4M387.2,227.0M414.9,258.8M400.3,250.5M398.0,247.1M409.0,247.4M413.5,323.8M407.8,251.7M407.8,255.4M425.2,265.7M430.5,279.8M399.7,255.1M405.3,314.8M412.0,252.1M389.0,228.2M421.1,301.0M399.1,248.2M400.7,251.3M433.4,281.9M412.1,280.3M393.7,278.6M438.4,307.5M412.7,306.6M436.7,293.3M400.6,253.6M406.2,250.0M412.1,253.1M408.8,249.8M396.8,280.0M416.5,264.3M431.6,332.1M408.8,251.8M408.9,281.3M432.3,296.3M408.4,321.3M406.7,252.5M398.6,246.4M427.5,322.6M425.9,335.3M400.1,250.8M433.5,343.2M433.4,336.4M422.2,258.9M404.7,255.5M418.3,261.6M393.6,229.8M419.5,258.5M410.7,252.3M427.1,263.9M421.2,323.0M420.6,286.2M404.6,265.2M398.1,310.8M421.4,260.4M431.3,281.9M400.0,389.5M399.1,350.0M397.8,343.7M397.7,347.3M401.4,340.7M397.6,351.0M397.3,352.0M398.6,344.2M396.8,369.5M399.3,348.3M396.4,361.5M397.3,384.7M399.0,367.6M397.8,346.0M398.2,372.4M397.0,348.6M398.4,384.3M399.4,380.6M400.2,348.8M399.0,384.0M398.7,373.2M398.9,348.5M398.0,367.8M399.4,373.4M398.2,382.4M399.1,390.2M397.5,359.0M395.1,359.0M398.7,380.0M398.9,378.5M409.5,386.8M408.0,381.3M406.9,350.3M406.9,348.5M408.1,346.7M407.9,353.6M408.5,361.1M408.2,381.0M406.8,353.9M409.3,350.9M406.3,376.8M406.2,371.3M409.5,386.3M408.5,359.6M406.5,359.3M406.2,384.7M406.0,378.6M407.5,386.6M407.0,351.0M408.2,383.1M405.3,379.7M409.9,377.3M405.5,346.7M408.3,354.8M408.5,347.7M406.7,369.7M406.6,381.1M408.9,382.5M409.8,378.6M408.8,346.3M412.8,370.8M412.9,353.9M414.6,364.8M411.1,358.7M414.1,382.2M411.8,368.7M414.6,364.2M413.9,365.3M414.8,381.4M414.1,354.3M414.4,366.0M412.4,371.5M414.0,387.1M413.1,360.0M414.2,355.1M414.0,374.4M413.8,383.0M413.3,370.5M413.3,374.2M413.9,365.8M413.1,373.1M414.2,350.5M413.6,381.7M413.1,385.4M415.6,362.4M413.6,367.0M413.2,385.8M413.4,358.5M414.1,368.3M413.5,351.5M429.6,355.1M426.8,376.5M425.1,378.3M428.1,382.1M427.4,361.2M428.6,365.7M428.3,358.0M428.6,362.4M428.4,367.6M423.2,353.1M428.6,360.9M426.3,365.7M427.3,367.4M427.8,355.5M426.2,350.7M428.0,353.2M428.7,367.6M425.8,380.0M425.9,384.7M428.2,376.3M426.3,378.3M428.9,383.5M428.8,381.5M428.1,353.5M429.6,386.6M427.4,382.0M426.3,385.2M427.6,365.2M427.5,372.7M428.3,381.7M393.6,358.2M391.0,358.7M393.1,353.6M390.4,349.5M391.3,341.1M392.3,366.1M393.8,335.0M390.8,357.4M392.5,368.9M392.1,362.2M394.1,369.3M393.3,353.1M390.9,354.5M391.6,351.0M393.2,366.9M391.1,359.2M390.6,330.3M391.0,357.0M392.5,360.6M391.9,337.8M391.9,334.5M390.0,360.0M389.9,358.1M391.5,336.1M392.5,357.7M391.5,364.1M392.1,343.0M388.9,371.0M391.2,360.2M393.0,342.0M418.4,354.7M418.8,351.8M419.1,334.5M417.5,329.0M418.7,321.2M419.1,327.2M418.9,339.6M417.8,355.8M418.4,332.3M415.8,323.4M417.0,354.6M421.0,349.1M418.2,332.7M417.5,328.3M420.5,322.2M417.3,322.2M419.2,328.2M417.5,351.5M417.4,342.4M419.4,350.2M418.4,349.5M418.6,334.4M416.4,347.3M416.2,338.5M414.8,325.6M419.8,332.3M418.0,334.4M418.6,331.0M420.9,334.4M420.3,323.1M434.1,358.8M432.0,358.4M432.3,341.4M434.8,371.9M435.3,370.9M432.4,345.6M433.4,365.9M432.3,358.2M432.1,330.3M434.2,364.3M431.1,349.8M430.5,344.9M433.4,369.4M433.1,364.4M432.8,360.0M432.4,335.3M433.4,352.6M432.1,363.3M433.4,345.2M433.4,333.7M432.5,350.4M431.7,369.1M430.8,338.3M431.3,359.2M433.5,352.8M434.7,353.0M432.3,364.5M433.1,357.4M433.0,338.4M432.7,369.1M401.6,346.4M401.6,348.1M401.3,330.0M400.7,322.3M399.1,338.5M405.5,329.9M400.5,325.0M402.5,349.4M400.3,333.0M404.5,331.1M400.3,321.7M401.9,343.0M403.6,322.1M401.5,321.8M402.1,333.8M401.8,345.5M401.0,335.7M402.4,338.4M401.6,321.9M404.7,323.3M400.7,344.3M401.3,326.4M401.3,328.0M400.9,337.5M403.1,324.7M400.4,346.6M400.6,329.0M400.0,336.5M404.0,338.3M402.0,333.7M286.3,346.6M287.4,335.2M287.9,339.8M286.6,342.1M287.4,343.9M285.9,331.8M286.7,354.7M287.9,334.9M287.0,355.2M287.7,332.6M287.2,353.5M285.1,336.9M286.2,331.1M287.4,346.8M286.8,347.6M286.2,338.3M285.0,343.8M285.3,337.1M274.5,349.7M272.5,355.5M273.4,367.0M272.3,339.9M273.5,349.0M272.6,357.0M274.6,369.3M272.2,366.7M272.4,369.4M272.8,347.1M273.7,358.8M272.0,339.4M274.5,353.7M273.2,357.7M274.5,341.4M272.4,363.6M272.7,367.6M274.4,348.2M274.7,370.9M272.9,337.8M272.9,358.6M272.7,352.6M391.7,229.9M383.9,234.6M380.5,235.3M379.5,247.5M383.6,248.3M382.0,245.7M384.7,231.9M379.3,243.1M383.2,240.2M387.0,228.8M389.6,227.5M385.1,246.3M386.4,245.1M389.9,232.0M388.6,248.1M391.9,247.5M392.2,245.0M381.4,232.3M380.7,247.4M385.4,239.6M391.0,242.8M395.6,237.8M382.1,229.9M385.0,240.7M393.4,237.9M389.9,238.1M392.5,237.8M380.0,250.8M383.8,230.7M382.6,228.9M387.5,243.6M390.5,227.1M384.8,233.0M385.0,250.1M384.7,247.8M391.5,244.5M385.7,244.0M393.3,249.3M385.1,239.2M390.6,236.6M379.1,240.5M389.4,248.9M393.0,236.6M394.7,247.5M381.9,230.8M402.7,235.4M399.9,242.2M399.6,265.0M397.8,251.7M402.3,249.1M398.7,256.4M402.5,239.2M402.1,263.9M398.3,249.2M402.4,233.0M402.4,259.4M398.2,242.1M400.7,255.8M402.6,241.3M401.6,245.5M399.3,264.2M397.0,244.1M399.6,254.4M397.4,258.2M400.9,232.6M400.6,233.1M398.0,232.7M399.0,249.2M401.1,262.8M401.2,252.7" fill="none" stroke="none" marker-start="url(#mg)" marker-mid="url(#mg)" marker-end="url(#mg)"/>
<polyline points="113.5,424.3 205.0,424.4 210.1,422.0 216.8,418.6 221.8,415.2 225.2,412.4 226.9,407.3 229.4,400.6 231.9,394.7 234.5,393.0 236.1,396.4 238.7,399.7 241.2,396.4 242.9,390.5 244.0,383.8 245.4,377.0 246.7,372.0 247.9,367.0 249.1,362.8 250.1,365.3 251.3,359.4 252.4,351.8 253.8,346.8 255.5,342.6 256.8,346.0 258.0,338.4 258.8,331.0 260.5,327.5 263.0,324.1 264.7,321.6 266.4,322.4 268.1,310.7 269.7,293.9 271.4,283.8 272.3,280.4 273.1,293.9 274.3,314.0 275.1,324.1 276.5,300.6 278.2,288.8 279.8,283.8 281.5,275.4 283.2,263.6 284.0,250.0 284.9,244.0 285.7,255.0 286.6,285.5 287.4,272.0 288.2,255.2 289.1,240.1 291.6,233.4 293.6,217.4 294.3,204.3 296.4,200.0 299.3,196.4 302.1,197.1 305.0,202.1 308.6,207.1 310.7,201.4 312.9,195.7 315.7,196.4 317.9,192.9 320.0,188.6 322.1,183.6 325.7,177.0 328.5,171.4 329.9,168.5 331.4,166.4 334.2,165.7 337.1,165.3 339.9,162.8 342.8,165.0 344.9,160.7 347.0,159.2 348.5,161.4 349.9,153.5 351.3,150.7 353.5,151.0 354.9,153.2 357.0,150.7 358.4,146.4 360.0,136.4 361.4,141.4 363.6,140.7 365.7,142.1 367.9,146.4 370.0,147.1 372.1,144.3 374.3,147.9 376.4,151.4 378.6,153.6 380.7,151.4 382.6,162.9 384.3,152.9 385.7,146.8" fill="none" stroke="#0000ff" stroke-width="2.1" stroke-linejoin="round" stroke-linecap="round"/>
<polyline points="385.7,146.8 386.6,175.0 387.2,222.0 388.2,170.0 389.2,148.0 389.9,148.0 390.6,200.0 391.6,290.0 392.6,240.0 393.5,174.0 394.3,200.0 395.4,280.0 396.6,330.0 397.7,357.0 398.6,330.0 399.6,260.0 400.7,188.0 402.0,190.0 403.5,205.0 404.6,270.0 405.8,330.0 407.0,358.7 408.2,300.0 409.3,260.0 410.5,236.0 411.5,240.0 412.4,300.0 413.7,364.0 414.8,300.0 416.0,197.6 417.0,240.0 418.3,300.0 419.5,290.0 420.6,240.0 421.7,202.6 422.8,240.0 424.0,300.0 425.4,320.0 426.6,335.0 427.6,345.0 428.6,320.0 429.8,270.0 430.9,228.7 432.0,250.0 433.2,270.0 434.4,290.0 435.4,298.0 436.6,270.0 438.2,241.7 440.3,256.0" fill="none" stroke="#0000ff" stroke-width="1.7" stroke-linejoin="round" stroke-linecap="round"/>
<polyline points="440.3,256.0 442.8,264.4 446.2,270.3 450.4,278.7 453.2,287.2 455.7,290.6 457.4,294.0 459.1,299.0 461.6,308.0 464.1,319.0 466.6,331.8 469.2,348.7 470.5,377.2 472.9,360.4 474.2,348.7 475.9,363.8 477.6,390.7 480.1,380.6 482.3,370.5 484.3,372.2 486.6,378.3 488.5,384.0 490.7,386.6 492.7,388.0 494.1,393.3 495.7,399.9 497.4,408.2 499.1,412.4 500.7,410.7 503.2,414.9 506.6,419.1 509.9,421.5 514.9,423.5 519.9,424.2 622.8,424.2" fill="none" stroke="#0000ff" stroke-width="2.1" stroke-linejoin="round" stroke-linecap="round"/>
<polyline points="113.5,436.7 117.0,436.0 121.0,435.0 125.0,434.3 129.1,435.5 133.2,433.9 136.4,432.7 139.6,431.1 143.2,432.7 150.0,433.4 155.0,435.0 160.0,431.0 164.0,429.6 170.0,436.0 176.0,439.3 185.0,439.0 200.0,437.6 210.0,433.4 215.1,429.5 221.8,425.8 226.9,421.6 231.1,416.6 234.5,410.7 236.1,406.5 237.8,412.4 240.3,411.5 242.9,407.3 244.0,400.6 245.4,395.5 247.1,390.5 248.7,392.2 250.1,387.1 251.3,382.1 252.9,377.1 254.6,379.6 256.3,373.7 258.0,369.5 259.7,366.1 262.2,362.8 264.7,359.4 267.2,356.0 268.9,351.8 270.6,343.0 272.3,330.0 273.3,364.0 274.6,340.0 276.1,331.0 277.8,330.0 279.5,322.0 281.0,310.0 282.4,300.0 283.5,294.0 284.6,300.0 285.5,330.0 286.3,352.0 287.2,335.0 288.1,325.5 290.4,310.0 292.7,297.7 293.4,284.0 295.1,279.0 296.8,280.7 299.3,284.0 301.8,285.7 305.2,291.0 307.7,284.0 310.3,280.7 312.8,287.0 315.3,280.7 317.0,272.3 319.5,274.0 322.0,268.9 324.5,265.5 327.1,262.2 329.6,258.8 332.1,255.5 333.8,252.1 336.3,254.6 338.8,252.1 341.3,253.8 343.9,249.6 346.4,250.4 348.9,247.1 351.4,242.0 353.9,243.7 356.5,241.2 358.2,236.1 359.8,231.1 362.4,233.6 364.9,235.3 367.4,236.1 369.9,237.8 372.1,232.8 374.1,237.8 376.6,240.3 379.2,242.9 381.7,246.2 384.2,241.2 385.4,233.6" fill="none" stroke="#00ff00" stroke-width="2.1" stroke-linejoin="round" stroke-linecap="round"/>
<polyline points="385.4,233.6 386.0,250.0 386.6,286.0 387.4,300.0 388.2,260.0 389.1,228.6 390.0,232.0 391.0,270.0 392.0,320.0 393.0,290.0 394.0,245.0 395.0,240.0 396.2,280.0 397.2,330.0 398.2,380.6 399.2,330.0 400.4,280.0 401.5,258.0 402.6,290.0 403.6,330.0 404.4,300.0 405.3,320.0 406.2,340.0 407.0,360.6 408.0,300.0 409.0,260.0 409.9,249.0 410.8,280.0 411.8,330.0 412.6,350.0 413.5,363.0 414.5,310.0 415.6,275.0 416.5,262.7 417.4,290.0 418.4,320.0 419.5,300.0 420.8,270.0 421.7,260.0 422.6,280.0 423.6,300.0 424.6,290.0 425.6,310.0 426.6,340.0 427.6,374.7 428.6,340.0 429.6,320.0 430.6,300.0 431.4,310.0 432.2,330.0 433.2,320.0 434.2,330.0 435.0,340.0 435.8,345.0 436.8,320.0 437.8,305.0 438.9,310.0" fill="none" stroke="#00ff00" stroke-width="1.5" stroke-linejoin="round" stroke-linecap="round"/>
<polyline points="438.9,310.0 440.6,318.4 443.9,325.1 447.3,328.5 450.7,336.9 454.0,341.9 457.4,346.1 460.8,355.4 464.1,363.8 467.5,372.2 470.0,380.6 470.8,408.0 472.6,392.0 474.1,383.3 475.9,396.0 477.5,412.4 479.2,406.0 480.8,403.3 483.3,398.3 485.8,403.3 488.3,411.6 491.6,414.9 494.1,420.7 496.6,426.5 498.2,429.9 501.6,431.5 504.9,434.0 509.9,436.2 516.5,437.8 523.2,437.3 528.2,437.8 531.5,436.2 538.2,435.7 543.1,435.7 545.6,433.2 549.8,434.0 556.4,433.5 560.0,434.5 563.3,431.6 566.7,429.5 570.0,429.9 572.5,433.3 575.8,435.8 580.8,434.5 586.6,432.8 590.8,429.9 594.9,429.8 599.9,429.1 604.1,432.0 607.4,433.7 614.0,433.3 622.8,433.3" fill="none" stroke="#00ff00" stroke-width="2.1" stroke-linejoin="round" stroke-linecap="round"/>
<polyline points="113.5,427.4 150.0,427.6 200.0,427.3 233.6,425.8 267.2,423.8 300.8,421.6 309.2,420.4 330.0,420.8 350.0,419.6 363.3,420.0 373.2,419.1 379.0,415.8 384.9,418.0 393.2,419.6 399.8,420.8 404.0,418.3 409.8,420.0 423.1,420.0 429.8,421.3 446.4,420.8 460.0,422.4 493.3,424.0 514.9,425.7 559.8,426.5 600.0,426.5 622.8,426.6" fill="none" stroke="#ff6e6e" stroke-width="3.4" stroke-linejoin="round" stroke-linecap="round"/>
<path d="M348.1,418.5M341.6,421.7M332.9,421.2M338.3,421.0M331.3,420.1M346.7,419.7M333.4,419.9M336.8,421.0M345.0,418.7M337.3,419.4M331.8,420.5M338.4,420.4M334.9,421.4M332.5,420.4M336.8,421.6M337.8,419.6M347.2,420.1M334.2,420.4M349.2,419.1M332.4,420.9M336.7,422.8M344.6,419.2M333.6,421.2M336.3,420.5M353.5,419.4M359.1,420.6M355.2,420.1M362.1,420.5M358.9,418.9M360.7,420.4M361.4,419.2M360.6,420.5M352.8,419.4M359.0,419.6M357.7,420.1M351.4,420.8M355.0,419.8M361.0,421.5M355.4,420.5M353.8,420.6M364.9,419.9M370.8,419.7M367.0,420.2M368.5,419.3M369.5,419.6M363.4,419.5M367.8,420.5M369.3,421.1M365.0,419.1M370.9,419.0M365.7,420.0M364.2,421.5M374.1,417.6M373.3,417.6M374.0,419.3M374.3,417.3M375.1,417.7M374.3,418.5M375.5,418.8M375.9,418.9M382.5,418.4M381.7,417.3M384.1,417.1M384.0,417.1M383.5,417.4M381.4,416.1M379.3,416.1M386.1,418.4M385.8,419.0M389.5,419.2M391.7,419.7M391.1,420.2M391.6,418.7M392.5,418.6M386.1,420.3M388.2,419.1M392.9,419.3M393.5,421.1M396.9,419.9M394.1,420.0M397.2,420.3M396.3,421.1M396.9,419.9M399.5,419.5M398.7,420.3M402.2,418.3M403.0,420.3M403.3,420.2M403.3,417.9M401.6,420.4M403.8,420.4M405.2,418.1M405.9,418.9M406.5,418.3M406.1,419.1M407.1,419.0M407.0,419.1M408.0,420.4M409.4,420.6M422.7,419.8M409.9,420.5M420.6,417.9M411.6,419.3M413.8,418.4M413.6,419.8M413.8,420.1M411.4,420.7M417.8,421.7M419.8,419.1M415.3,419.0M417.0,419.6M412.2,420.6M418.9,421.7M411.9,420.0M420.8,418.3M428.1,421.6M426.8,420.0M426.3,419.7M423.6,420.0M428.3,422.0M424.7,420.6M428.6,419.7M424.1,418.8M443.9,420.4M434.0,420.8M441.3,422.3M443.9,420.9M442.2,421.0M434.4,421.9M445.0,419.3M437.0,422.6M442.6,422.3M441.5,423.7M437.7,420.8M435.9,421.4M430.0,421.9M440.8,421.6M435.1,421.1M433.4,421.9M437.2,421.1M440.6,420.6M441.5,420.6M431.6,419.7M459.3,420.9M456.9,422.1M451.0,419.4M451.7,422.0M459.5,423.0M453.0,422.2M459.6,423.8M458.9,422.1M450.6,421.3M453.4,422.1M452.5,421.1M460.0,421.6M457.8,422.9M451.4,422.4M457.6,422.3M455.9,422.8M460.5,421.3M465.9,421.9M464.2,422.5M468.4,421.9M466.3,421.4M468.5,423.5M460.8,421.2M461.5,422.2M464.2,421.9M468.9,423.3M465.9,422.4M462.8,421.0M460.4,422.6M465.2,423.0M465.4,422.8M463.0,422.9M463.4,421.5M460.9,423.5M465.1,422.9" fill="none" stroke="none" marker-start="url(#mr)" marker-mid="url(#mr)" marker-end="url(#mr)"/>
<polyline points="113.5,427.4 150.0,427.6 200.0,427.3 233.6,425.8 267.2,423.8 300.8,421.6 309.2,420.4 330.0,420.8 350.0,419.6 363.3,420.0 373.2,419.1 379.0,415.8 384.9,418.0 393.2,419.6 399.8,420.8 404.0,418.3 409.8,420.0 423.1,420.0 429.8,421.3 446.4,420.8 460.0,422.4 493.3,424.0 514.9,425.7 559.8,426.5 600.0,426.5 622.8,426.6" fill="none" stroke="#ff0000" stroke-width="2.4" stroke-linejoin="round" stroke-linecap="round"/>
<rect x="113.5" y="84.7" width="510.0" height="397.0" fill="none" stroke="#000" stroke-width="1.6"/>
<rect x="637.8" y="397" width="184" height="84" fill="#fff" stroke="#000" stroke-width="1.6"/>
<text x="201.32" y="45.00" font-size="33.6px" textLength="337.01" lengthAdjust="spacingAndGlyphs" style="stroke:#000;stroke-width:0.3px">Radiation / 2012-07-09</text>
<text x="65.01" y="91.40" font-size="18.6px" textLength="40.68" lengthAdjust="spacingAndGlyphs" style="stroke:#000;stroke-width:0.3px">1200</text>
<text x="65.01" y="148.11" font-size="18.6px" textLength="40.68" lengthAdjust="spacingAndGlyphs" style="stroke:#000;stroke-width:0.3px">1000</text>
<text x="73.87" y="204.83" font-size="18.6px" textLength="31.25" lengthAdjust="spacingAndGlyphs" style="stroke:#000;stroke-width:0.3px">800</text>
<text x="73.09" y="261.54" font-size="18.6px" textLength="30.92" lengthAdjust="spacingAndGlyphs" style="stroke:#000;stroke-width:0.3px">600</text>
<text x="72.48" y="318.26" font-size="18.6px" textLength="31.55" lengthAdjust="spacingAndGlyphs" style="stroke:#000;stroke-width:0.3px">400</text>
<text x="72.48" y="374.97" font-size="18.6px" textLength="31.55" lengthAdjust="spacingAndGlyphs" style="stroke:#000;stroke-width:0.3px">200</text>
<text x="92.06" y="431.69" font-size="18.6px" textLength="12.10" lengthAdjust="spacingAndGlyphs" style="stroke:#000;stroke-width:0.3px">0</text>
<text x="66.95" y="488.40" font-size="18.6px" textLength="37.00" lengthAdjust="spacingAndGlyphs" style="stroke:#000;stroke-width:0.3px">-200</text>
<text x="90.50" y="507.00" font-size="18.6px" textLength="46.99" lengthAdjust="spacingAndGlyphs" style="stroke:#000;stroke-width:0.3px">00:00</text>
<text x="218.11" y="507.00" font-size="18.6px" textLength="46.26" lengthAdjust="spacingAndGlyphs" style="stroke:#000;stroke-width:0.3px">06:00</text>
<text x="346.88" y="507.00" font-size="18.6px" textLength="47.11" lengthAdjust="spacingAndGlyphs" style="stroke:#000;stroke-width:0.3px">12:00</text>
<text x="474.93" y="507.00" font-size="18.6px" textLength="45.94" lengthAdjust="spacingAndGlyphs" style="stroke:#000;stroke-width:0.3px">18:00</text>
<text x="343.67" y="526.90" font-size="18.0px" textLength="50.18" lengthAdjust="spacingAndGlyphs" style="stroke:#000;stroke-width:0.3px">Jul-09</text>
<text x="339.61" y="550.30" font-size="22.4px" textLength="59.54" lengthAdjust="spacingAndGlyphs" style="stroke:#000;stroke-width:0.3px">(LST)</text>
<text x="659.20" y="415.70" font-size="16.2px" textLength="156.26" lengthAdjust="spacingAndGlyphs" style="stroke:#000;stroke-width:0.05px">Soil Heat Flux 0.02m</text>
<text x="659.59" y="444.20" font-size="16.2px" textLength="101.76" lengthAdjust="spacingAndGlyphs" style="stroke:#000;stroke-width:0.05px">Net Radiation</text>
<text x="659.50" y="472.60" font-size="16.2px" textLength="152.54" lengthAdjust="spacingAndGlyphs" style="stroke:#000;stroke-width:0.05px">Shortwave Radiation</text>
<text x="662.44" y="532.90" font-size="11.4px" textLength="118.37" lengthAdjust="spacingAndGlyphs" style="stroke:#000;stroke-width:0.12px">©TERC, Univ. Tsukuba</text>
<text x="653.53" y="548.70" font-size="12.6px" textLength="170.14" lengthAdjust="spacingAndGlyphs" style="stroke:#000;stroke-width:0.12px">Observed at TERC Tower site</text>
<text x="560.73" y="565.30" font-size="12.6px" textLength="262.01" lengthAdjust="spacingAndGlyphs" style="stroke:#000;stroke-width:0.12px">Created Automatically at 2012-07-09/23:55:06</text>
<text x="436.12" y="582.60" font-size="12.6px" textLength="385.40" lengthAdjust="spacingAndGlyphs" style="stroke:#000;stroke-width:0.12px">Data source : /home/hojyo/new/TERC-data/sorted_data/MET.10s.dat</text>
<line x1="643" x2="655" y1="410.8" y2="410.8" stroke="#ff0000" stroke-width="1.9"/><circle cx="649" cy="410.8" r="1.3" fill="none" stroke="#ff7070" stroke-width="1"/>
<line x1="643" x2="655" y1="439.1" y2="439.1" stroke="#00ff00" stroke-width="1.9"/><circle cx="649" cy="439.1" r="1.3" fill="none" stroke="#70ff70" stroke-width="1"/>
<line x1="643" x2="655" y1="467.3" y2="467.3" stroke="#0000ff" stroke-width="1.9"/><circle cx="649" cy="467.3" r="1.3" fill="none" stroke="#7070ff" stroke-width="1"/>
<g>
<rect x="785" y="504" width="34" height="34" rx="0.8" fill="#1566f0"/>
<path d="M796.1,503.8 L808.3,503.8 L808,505.8 L806.8,508 L805.3,509.8 L799.7,509.8 L798.1,508 L796.6,505.8 Z" fill="#fff"/>
<path d="M802.5,511.6 C803.2,514 805.3,516 805.3,518.6 C805.3,520.4 804.1,521.6 802.4,521.6 C800.7,521.6 799.4,520.4 799.4,518.6 C799.4,516 801.7,514 802.5,511.6 Z" fill="#fff"/>
<path d="M785.4,515.2 Q802,533.6 818.6,515.2" fill="none" stroke="#fff" stroke-width="1"/>
<path d="M785.4,519.8 Q802,535.2 818.6,519.8" fill="none" stroke="#fff" stroke-width="1"/>
<path d="M789,525 Q802,531.5 815,525" fill="none" stroke="#fff" stroke-width="0.8"/>
<g style="fill:#fff;font-family:'Liberation Sans',sans-serif;font-weight:bold;font-size:8px">
<text x="786.2" y="537" style="fill:#fff;font-family:'Liberation Sans',sans-serif" textLength="4.3" lengthAdjust="spacingAndGlyphs">T</text>
<text x="794.6" y="537" style="fill:#fff;font-family:'Liberation Sans',sans-serif" textLength="4.5" lengthAdjust="spacingAndGlyphs">E</text>
<text x="803.8" y="537" style="fill:#fff;font-family:'Liberation Sans',sans-serif" textLength="4.8" lengthAdjust="spacingAndGlyphs">R</text>
<text x="812.8" y="537" style="fill:#fff;font-family:'Liberation Sans',sans-serif" textLength="5" lengthAdjust="spacingAndGlyphs">C</text>
</g>
</g>

</svg>
</body></html>
